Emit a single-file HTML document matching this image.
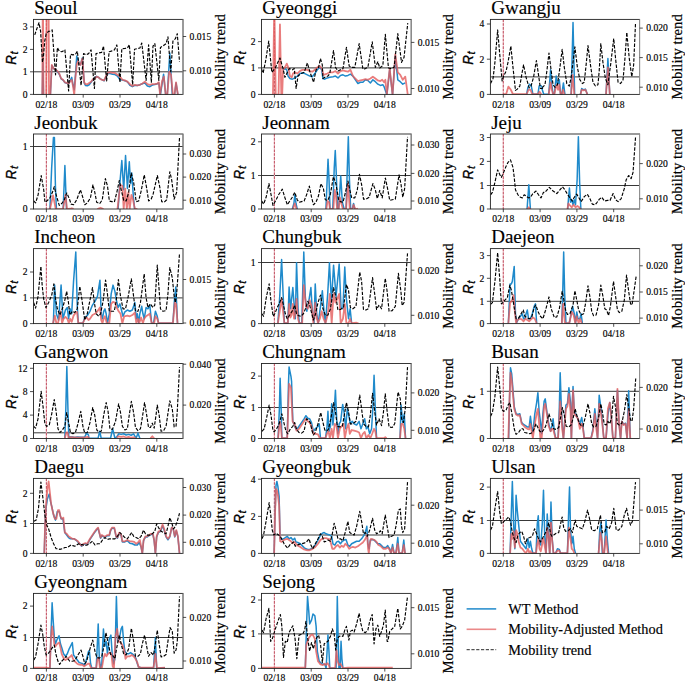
<!DOCTYPE html>
<html><head><meta charset="utf-8"><style>
html,body{margin:0;padding:0;background:#fff;}
svg{display:block;}
.t{font-family:"Liberation Serif", serif;font-size:9.6px;fill:#000;stroke:#000;stroke-width:0.15px;}
.rt{font-family:"Liberation Sans", sans-serif;font-style:italic;font-size:15.5px;fill:#000;stroke:#000;stroke-width:0.35px;}
.sub{font-size:11.5px;stroke-width:0.25px;}
.ml{font-family:"Liberation Serif", serif;font-size:14.7px;fill:#000;stroke:#000;stroke-width:0.2px;}
.ti{font-family:"Liberation Serif", serif;font-size:19px;fill:#000;stroke:#000;stroke-width:0.15px;}
.lg{font-family:"Liberation Serif", serif;font-size:14.3px;fill:#000;stroke:#000;stroke-width:0.15px;}
</style></head><body>
<svg width="685" height="682" viewBox="0 0 685 682">
<text x="34.3" y="14" class="ti">Seoul</text>
<clipPath id="c_Seoul"><rect x="33.5" y="19.4" width="149.5" height="75"/></clipPath>
<g clip-path="url(#c_Seoul)">
<line x1="33.5" y1="71.8" x2="183" y2="71.8" stroke="#383838" stroke-width="1.0"/>
<line x1="46.4" y1="19.4" x2="46.4" y2="94.4" stroke="#f3c9cf" stroke-width="1.1"/>
<line x1="46.4" y1="19.4" x2="46.4" y2="94.4" stroke="#c45a6a" stroke-width="1.1" stroke-dasharray="2.6,1.25"/>
<polyline points="42.3,96 42.9,62 43.5,96 50.3,96 51.81,65.47 53.68,68.58 55.55,69.83 57.41,71.7 59.28,74.19 61.15,78.8 63.02,80.05 64.89,82.54 66.76,83.29 68.63,83.79 70.5,79.8 71.74,77.31 72.99,84.78 74.24,89.77 75.48,74.81 76.73,56.12 77.98,59.86 79.22,63.6 80.47,64.84 82.34,57.99 84.21,82.91 85.45,85.4 87.32,85.78 89.19,84.78 91.06,82.29 92.93,79.55 94.8,77.93 96.67,76.31 98.54,77.31 100.4,78.8 102.27,79.8 104.14,80.79 106.01,76.68 107.88,73.57 109.98,73.57 112.48,74.19 114.97,74.56 117.46,76.06 119.95,79.8 122.45,80.05 124.94,80.67 127.43,81.92 129.92,85.4 132.41,86.65 134.91,85.4 137.4,85.53 139.89,84.78 142.38,83.79 144.88,82.91 147.37,86.03 149.86,86.65 152.35,85.03 154.84,84.53 157.34,83.79 158.83,82.91 160.45,94.75 163.57,74.19 165.69,94.75 167.31,94.75 169.8,53.01 172.29,94.75 174.53,94.75 176.03,82.91 177.9,94.75" fill="none" stroke="#1f8acb" stroke-width="1.5" stroke-linejoin="round"/>
<polyline points="42.3,96 42.9,-20 43.5,96 46.3,96 47.6,-250 49,96 50.3,96 51.81,64.84 53.68,68.58 55.55,69.83 57.41,71.07 59.28,73.57 61.15,78.55 63.02,79.8 64.89,82.29 66.76,82.91 68.63,83.54 70.5,81.04 71.74,79.8 72.99,86.03 74.24,94.75 75.48,77.31 76.73,64.84 77.98,61.11 79.22,64.22 80.47,64.84 82.34,58.61 84.21,82.29 85.45,84.16 87.32,84.16 89.19,82.91 91.06,81.67 92.93,79.17 94.8,78.55 96.67,76.68 98.54,77.31 100.4,79.17 102.27,79.8 104.14,80.42 106.01,76.06 107.88,72.94 109.98,72.32 112.48,72.94 114.97,72.94 117.46,74.81 119.95,76.68 122.45,79.8 124.94,80.42 127.43,81.67 129.92,84.16 132.41,86.03 134.91,84.78 137.4,85.4 139.89,84.78 142.38,83.54 144.88,81.67 147.37,84.16 149.86,84.78 152.35,84.16 154.84,84.16 157.34,83.54 158.83,82.29 160.08,94.75 162.07,81.04 163.82,76.68 165.69,94.75 167.31,94.75 169.17,71.7 171.04,74.81 172.91,94.75 174.53,94.75 176.03,82.29 177.9,94.75" fill="none" stroke="#e35c5c" stroke-opacity="0.8" stroke-width="1.8" stroke-linejoin="round"/>
<polyline points="34.74,34.94 36.85,28.71 38.97,22.73 40.59,31.2 42.46,62.35 43.46,56.12 44.7,41.17 46.2,33.69 48.69,31.2 50.56,31.2 52.18,29.95 55.55,74.81 57.41,47.65 59.28,51.14 61.78,51.76 64.89,49.89 68.63,91.01 70.5,54.25 72.99,54.88 75.48,54.25 77.35,51.14 81.09,85.4 83.58,53.63 86.07,54.88 88.57,53.63 91.06,49.89 94.42,88.52 96.04,53.63 98.54,53.01 101.65,52.38 103.52,46.15 106.64,81.04 109.11,51.76 111.23,51.14 114.35,49.89 116.84,44.91 119.95,82.29 121.82,48.64 124.94,48.4 127.43,48.02 129.3,44.66 132.66,84.78 134.53,49.27 137.4,48.64 139.89,48.02 141.76,43.04 146.12,80.42 148.61,44.91 151.36,82.29 152.98,46.15 154.84,43.66 158.83,80.42 160.45,47.4 163.57,45.53 166.06,43.66 167.93,36.81 170.79,71.7 172.91,41.17 175.4,38.68 177.27,33.69 179.52,61.73" fill="none" stroke="#000" stroke-width="1.15" stroke-dasharray="3.4,1.5" stroke-linejoin="round"/>
</g>
<rect x="33.5" y="19.4" width="149.5" height="75" fill="none" stroke="#222" stroke-width="0.9"/>
<line x1="183" y1="19.4" x2="183" y2="94.4" stroke="#999" stroke-width="1"/>
<line x1="46.4" y1="94.4" x2="46.4" y2="97.6" stroke="#222" stroke-width="0.8"/>
<text x="46.4" y="107.7" text-anchor="middle" class="t">02/18</text>
<line x1="83.2" y1="94.4" x2="83.2" y2="97.6" stroke="#222" stroke-width="0.8"/>
<text x="83.2" y="107.7" text-anchor="middle" class="t">03/09</text>
<line x1="120" y1="94.4" x2="120" y2="97.6" stroke="#222" stroke-width="0.8"/>
<text x="120" y="107.7" text-anchor="middle" class="t">03/29</text>
<line x1="156.8" y1="94.4" x2="156.8" y2="97.6" stroke="#222" stroke-width="0.8"/>
<text x="156.8" y="107.7" text-anchor="middle" class="t">04/18</text>
<line x1="30" y1="94.4" x2="33.5" y2="94.4" stroke="#222" stroke-width="0.8"/>
<text x="27.5" y="97.7" text-anchor="end" class="t">0</text>
<line x1="30" y1="71.8" x2="33.5" y2="71.8" stroke="#222" stroke-width="0.8"/>
<text x="27.5" y="75.1" text-anchor="end" class="t">1</text>
<line x1="30" y1="49.4" x2="33.5" y2="49.4" stroke="#222" stroke-width="0.8"/>
<text x="27.5" y="52.7" text-anchor="end" class="t">2</text>
<line x1="30" y1="26.9" x2="33.5" y2="26.9" stroke="#222" stroke-width="0.8"/>
<text x="27.5" y="30.2" text-anchor="end" class="t">3</text>
<line x1="183" y1="70.8" x2="186.2" y2="70.8" stroke="#222" stroke-width="0.8"/>
<text x="189.6" y="74.1" class="t">0.010</text>
<line x1="183" y1="36.5" x2="186.2" y2="36.5" stroke="#222" stroke-width="0.8"/>
<text x="189.6" y="39.8" class="t">0.015</text>
<g transform="translate(15.9,58.2) rotate(-90)"><text class="rt" transform="translate(-6.6,0) scale(0.86,1)">R</text><text class="rt sub" x="3.7" y="2.4">t</text></g>
<text transform="translate(225,56.9) rotate(-90)" text-anchor="middle" class="ml">Mobility trend</text>
<text x="262.3" y="14" class="ti">Gyeonggi</text>
<clipPath id="c_Gyeonggi"><rect x="261.5" y="19.4" width="149.7" height="75"/></clipPath>
<g clip-path="url(#c_Gyeonggi)">
<line x1="261.5" y1="67.9" x2="411.2" y2="67.9" stroke="#383838" stroke-width="1.0"/>
<line x1="274.4" y1="19.4" x2="274.4" y2="94.4" stroke="#f3c9cf" stroke-width="1.1"/>
<line x1="274.4" y1="19.4" x2="274.4" y2="94.4" stroke="#c45a6a" stroke-width="1.1" stroke-dasharray="2.6,1.25"/>
<polyline points="283.05,69.83 284.92,68.58 286.79,69.83 288.04,76.06 289.91,78.55 292.4,79.17 294.89,77.93 297.38,76.06 299.88,73.57 302.37,72.94 304.86,73.57 307.35,74.81 309.84,76.06 312.34,76.68 314.83,73.57 317.32,69.83 319.81,67.34 321.68,69.83 322.93,78.55 324.8,79.17 327.29,77.93 329.78,77.31 333.02,76.68 335.49,76.06 337.98,77.93 340.48,75.44 342.97,74.81 345.46,76.06 347.95,75.44 350.45,74.19 352.94,76.06 355.43,79.8 357.92,83.54 360.41,82.29 362.91,82.29 365.4,79.8 367.89,80.42 370.38,82.91 372.88,79.8 375.37,81.67 377.86,84.16 380.35,85.4 382.84,84.78 384.09,86.65 386.83,94.75 389.7,69.83 392.56,94.75 395.31,56.12 397.8,79.8 400.29,81.67 402.78,84.16 405.27,82.91" fill="none" stroke="#1f8acb" stroke-width="1.5" stroke-linejoin="round"/>
<polyline points="272.96,94.75 274.33,2.54 275.7,94.75 278.57,94.75 279.94,24.35 281.31,94.75 282.18,94.75 283.05,69.83 284.92,67.34 286.79,63.6 288.66,68.58 289.91,76.06 291.78,77.31 293.02,73.57 294.89,72.32 297.38,73.57 299.88,71.07 302.37,69.83 304.86,69.83 307.35,69.83 309.84,71.07 312.34,71.7 314.83,69.83 317.32,67.34 319.81,66.09 321.68,68.58 323.55,74.81 327.29,73.57 329.78,72.32 333.02,72.32 335.49,71.07 337.98,73.57 340.48,71.07 342.97,70.45 345.46,71.07 347.95,71.7 350.45,69.83 352.94,76.06 355.43,78.55 357.92,81.04 360.41,80.42 362.91,79.8 365.4,79.17 367.89,79.8 370.38,78.55 372.88,76.68 375.37,78.55 377.86,80.42 380.35,81.04 382.22,79.8 384.09,82.29 385.34,79.8 386.83,94.75 389.7,68.58 392.56,94.75 395.31,54.25 397.8,72.32 400.29,74.81 402.78,79.8 405.27,76.68 407.77,94.75" fill="none" stroke="#e35c5c" stroke-opacity="0.8" stroke-width="1.8" stroke-linejoin="round"/>
<polyline points="261.25,68.58 263.12,72.94 265.61,61.11 268.72,41.17 271.84,72.32 274.95,68.58 279.94,57.99 283.05,68.58 284.92,77.31 286.79,73.57 289.28,68.58 292.4,69.83 294.27,68.58 296.14,88.52 298.01,76.06 301.12,73.57 304.24,72.32 307.35,62.98 309.84,71.7 313.58,82.29 316.07,69.83 318.57,67.34 320.44,58.61 322.31,64.84 322.93,78.55 324.8,77.31 327.91,76.06 329.78,73.57 333.52,50.51 335.49,67.34 337.98,71.07 340.48,69.83 342.97,68.58 346.46,47.4 349.2,66.09 351.69,67.34 354.81,67.34 359.17,43.66 362.91,69.21 365.4,68.58 367.89,67.34 372.25,41.79 375.37,67.34 377.86,61.73 379.73,67.96 382.84,65.47 385.34,34.31 388.45,67.96 390.94,68.58 394.06,67.34 397.8,33.69 401.54,62.35 404.03,57.37 407.77,23.1" fill="none" stroke="#000" stroke-width="1.15" stroke-dasharray="3.4,1.5" stroke-linejoin="round"/>
</g>
<rect x="261.5" y="19.4" width="149.7" height="75" fill="none" stroke="#222" stroke-width="0.9"/>
<line x1="411.2" y1="19.4" x2="411.2" y2="94.4" stroke="#999" stroke-width="1"/>
<line x1="274.4" y1="94.4" x2="274.4" y2="97.6" stroke="#222" stroke-width="0.8"/>
<text x="274.4" y="107.7" text-anchor="middle" class="t">02/18</text>
<line x1="311.2" y1="94.4" x2="311.2" y2="97.6" stroke="#222" stroke-width="0.8"/>
<text x="311.2" y="107.7" text-anchor="middle" class="t">03/09</text>
<line x1="348" y1="94.4" x2="348" y2="97.6" stroke="#222" stroke-width="0.8"/>
<text x="348" y="107.7" text-anchor="middle" class="t">03/29</text>
<line x1="384.8" y1="94.4" x2="384.8" y2="97.6" stroke="#222" stroke-width="0.8"/>
<text x="384.8" y="107.7" text-anchor="middle" class="t">04/18</text>
<line x1="258" y1="94.4" x2="261.5" y2="94.4" stroke="#222" stroke-width="0.8"/>
<text x="255.5" y="97.7" text-anchor="end" class="t">0</text>
<line x1="258" y1="67.9" x2="261.5" y2="67.9" stroke="#222" stroke-width="0.8"/>
<text x="255.5" y="71.2" text-anchor="end" class="t">1</text>
<line x1="258" y1="41.6" x2="261.5" y2="41.6" stroke="#222" stroke-width="0.8"/>
<text x="255.5" y="44.9" text-anchor="end" class="t">2</text>
<line x1="411.2" y1="88.5" x2="414.4" y2="88.5" stroke="#222" stroke-width="0.8"/>
<text x="417.8" y="91.8" class="t">0.010</text>
<line x1="411.2" y1="42.4" x2="414.4" y2="42.4" stroke="#222" stroke-width="0.8"/>
<text x="417.8" y="45.7" class="t">0.015</text>
<g transform="translate(243.9,58.2) rotate(-90)"><text class="rt" transform="translate(-6.6,0) scale(0.86,1)">R</text><text class="rt sub" x="3.7" y="2.4">t</text></g>
<text transform="translate(453.2,56.9) rotate(-90)" text-anchor="middle" class="ml">Mobility trend</text>
<text x="491.2" y="14" class="ti">Gwangju</text>
<clipPath id="c_Gwangju"><rect x="490.4" y="19.4" width="149.2" height="75"/></clipPath>
<g clip-path="url(#c_Gwangju)">
<line x1="490.4" y1="76.9" x2="639.6" y2="76.9" stroke="#383838" stroke-width="1.0"/>
<line x1="503.3" y1="19.4" x2="503.3" y2="94.4" stroke="#f3c9cf" stroke-width="1.1"/>
<line x1="503.3" y1="19.4" x2="503.3" y2="94.4" stroke="#c45a6a" stroke-width="1.1" stroke-dasharray="2.6,1.25"/>
<polyline points="526.68,94.25 527.93,87.27 529.55,84.16 531.29,86.03 532.91,94.25 537.9,94.25 539.14,86.03 540.76,85.4 542.88,88.52" fill="none" stroke="#1f8acb" stroke-width="1.5" stroke-linejoin="round"/>
<polyline points="541.87,88.52 543.74,94.25 548.72,94.25 550.59,69.83 551.84,84.78 553.08,94.25 554.33,94.25 556.2,76.06 557.45,84.78 559.31,79.8 560.56,94.25 561.81,94.25 563.43,82.91 564.92,94.25" fill="none" stroke="#1f8acb" stroke-width="1.5" stroke-linejoin="round"/>
<polyline points="571.15,94.25 573.02,22.48 574.64,94.25" fill="none" stroke="#1f8acb" stroke-width="1.5" stroke-linejoin="round"/>
<polyline points="580.5,94.25 581.74,88.52 583.61,89.77 585.48,89.14 587.35,94.25" fill="none" stroke="#1f8acb" stroke-width="1.5" stroke-linejoin="round"/>
<polyline points="606.04,94.25 607.91,58.61 609.78,94.25" fill="none" stroke="#1f8acb" stroke-width="1.5" stroke-linejoin="round"/>
<polyline points="503.63,94.25 506.12,94.25 508.36,86.65 510.86,89.77 512.98,94.25 526.68,94.25 528.55,89.77 530.42,89.77 532.29,94.25 537.9,94.25 539.52,91.64 541.26,94.25" fill="none" stroke="#e35c5c" stroke-opacity="0.8" stroke-width="1.8" stroke-linejoin="round"/>
<polyline points="548.72,94.25 550.59,82.29 551.84,89.77 553.08,94.25 554.33,94.25 555.58,88.52 556.82,84.78 558.07,89.77 559.31,84.78 560.56,94.25 561.81,94.25 563.05,89.77 564.3,94.25" fill="none" stroke="#e35c5c" stroke-opacity="0.8" stroke-width="1.8" stroke-linejoin="round"/>
<polyline points="571.15,94.25 572.65,74.81 574.27,94.25" fill="none" stroke="#e35c5c" stroke-opacity="0.8" stroke-width="1.8" stroke-linejoin="round"/>
<polyline points="580.5,94.25 581.74,89.77 583.61,90.39 585.48,89.77 587.35,94.25" fill="none" stroke="#e35c5c" stroke-opacity="0.8" stroke-width="1.8" stroke-linejoin="round"/>
<polyline points="606.04,94.25 607.91,67.34 609.78,94.25" fill="none" stroke="#e35c5c" stroke-opacity="0.8" stroke-width="1.8" stroke-linejoin="round"/>
<polyline points="490.55,83.54 493.04,78.55 494.91,62.35 497.65,29.95 499.89,56.12 502.13,81.04 503.63,76.06 506.12,71.07 507.99,62.35 510.86,46.15 512.98,67.34 515.47,90.39 517.34,89.14 519.83,86.03 521.7,74.81 523.57,64.84 526.06,77.31 529.17,87.9 531.04,86.03 533.54,77.31 536.4,60.48 538.52,74.81 540.39,88.52 542.88,88.52 541.87,87.9 544.98,84.78 546.85,71.07 548.97,53.01 551.21,71.07 553.08,84.78 554.95,87.27 557.45,84.78 559.94,67.34 562.18,49.27 564.3,67.34 566.79,83.54 569.28,86.03 571.15,77.31 574.89,46.78 577.38,67.34 579.88,79.8 582.37,83.54 584.24,82.29 586.11,64.84 587.98,45.53 590.47,64.84 592.96,82.29 595.45,86.03 597.94,84.78 599.19,71.07 600.81,43.66 602.93,62.35 605.42,78.55 607.91,84.78 610.6,64.84 613.71,38.68 615.58,58.61 618.07,82.29 620.57,83.54 623.06,79.8 624.93,58.61 626.8,32.45 629.29,58.61 631.78,76.68 633.65,64.84 635.52,23.1" fill="none" stroke="#000" stroke-width="1.15" stroke-dasharray="3.4,1.5" stroke-linejoin="round"/>
</g>
<rect x="490.4" y="19.4" width="149.2" height="75" fill="none" stroke="#222" stroke-width="0.9"/>
<line x1="639.6" y1="19.4" x2="639.6" y2="94.4" stroke="#999" stroke-width="1"/>
<line x1="503.3" y1="94.4" x2="503.3" y2="97.6" stroke="#222" stroke-width="0.8"/>
<text x="503.3" y="107.7" text-anchor="middle" class="t">02/18</text>
<line x1="540.1" y1="94.4" x2="540.1" y2="97.6" stroke="#222" stroke-width="0.8"/>
<text x="540.1" y="107.7" text-anchor="middle" class="t">03/09</text>
<line x1="576.9" y1="94.4" x2="576.9" y2="97.6" stroke="#222" stroke-width="0.8"/>
<text x="576.9" y="107.7" text-anchor="middle" class="t">03/29</text>
<line x1="613.7" y1="94.4" x2="613.7" y2="97.6" stroke="#222" stroke-width="0.8"/>
<text x="613.7" y="107.7" text-anchor="middle" class="t">04/18</text>
<line x1="486.9" y1="94.4" x2="490.4" y2="94.4" stroke="#222" stroke-width="0.8"/>
<text x="484.4" y="97.7" text-anchor="end" class="t">0</text>
<line x1="486.9" y1="59.2" x2="490.4" y2="59.2" stroke="#222" stroke-width="0.8"/>
<text x="484.4" y="62.5" text-anchor="end" class="t">2</text>
<line x1="486.9" y1="24" x2="490.4" y2="24" stroke="#222" stroke-width="0.8"/>
<text x="484.4" y="27.3" text-anchor="end" class="t">4</text>
<line x1="639.6" y1="87.2" x2="642.8" y2="87.2" stroke="#222" stroke-width="0.8"/>
<text x="646.2" y="90.5" class="t">0.010</text>
<line x1="639.6" y1="57.6" x2="642.8" y2="57.6" stroke="#222" stroke-width="0.8"/>
<text x="646.2" y="60.9" class="t">0.015</text>
<line x1="639.6" y1="28.1" x2="642.8" y2="28.1" stroke="#222" stroke-width="0.8"/>
<text x="646.2" y="31.4" class="t">0.020</text>
<g transform="translate(472.8,58.2) rotate(-90)"><text class="rt" transform="translate(-6.6,0) scale(0.86,1)">R</text><text class="rt sub" x="3.7" y="2.4">t</text></g>
<text transform="translate(681.6,56.9) rotate(-90)" text-anchor="middle" class="ml">Mobility trend</text>
<text x="34.3" y="128.6" class="ti">Jeonbuk</text>
<clipPath id="c_Jeonbuk"><rect x="33.5" y="134" width="149.5" height="75"/></clipPath>
<g clip-path="url(#c_Jeonbuk)">
<line x1="33.5" y1="146.5" x2="183" y2="146.5" stroke="#383838" stroke-width="1.0"/>
<line x1="46.4" y1="134" x2="46.4" y2="209" stroke="#f3c9cf" stroke-width="1.1"/>
<line x1="46.4" y1="134" x2="46.4" y2="209" stroke="#c45a6a" stroke-width="1.1" stroke-dasharray="2.6,1.25"/>
<polyline points="49.94,209.25 51.68,167.38 53.43,137.48 54.42,137.48 55.42,186.07 56.42,209.25" fill="none" stroke="#1f8acb" stroke-width="1.5" stroke-linejoin="round"/>
<polyline points="63.15,209.25 64.89,165.51 66.51,209.25" fill="none" stroke="#1f8acb" stroke-width="1.5" stroke-linejoin="round"/>
<polyline points="118.08,209.25 119.95,182.34 121.82,160.53 123.69,189.81 125.56,155.55 127.43,188.57 129.3,161.78 130.55,183.58 131.79,172.99 133.41,197.29 134.66,209.25" fill="none" stroke="#1f8acb" stroke-width="1.5" stroke-linejoin="round"/>
<polyline points="48.69,209.25 49.94,209.25 53.05,195.42 55.79,209.25 63.02,209.25 65.51,194.8 67.01,209.25 69.88,208.75 71.74,208.26 73.61,208.88" fill="none" stroke="#e35c5c" stroke-opacity="0.8" stroke-width="1.8" stroke-linejoin="round"/>
<polyline points="97.29,209 100.4,207.76 103.52,209" fill="none" stroke="#e35c5c" stroke-opacity="0.8" stroke-width="1.8" stroke-linejoin="round"/>
<polyline points="117.46,209.25 120.2,184.83 122.45,186.07 123.69,209.25 125.19,188.57 126.81,209.25 128.43,192.31 129.67,209.25 131.42,194.8 133.04,199.78 134.91,209.25 137.4,209" fill="none" stroke="#e35c5c" stroke-opacity="0.8" stroke-width="1.8" stroke-linejoin="round"/>
<polyline points="33.74,201.03 35.61,202.9 38.1,194.8 41.21,175.48 43.71,189.81 44.95,202.27 46.82,201.03 49.94,197.91 52.43,192.31 54.3,186.7 56.17,194.8 59.28,205.39 61.78,203.52 64.27,199.78 66.76,192.93 69.25,198.54 71.12,204.14 73.61,204.77 76.73,199.78 80.47,189.81 82.96,197.91 84.83,204.77 87.32,202.9 90.44,197.91 92.93,184.83 94.8,192.31 96.67,202.27 99.78,203.52 102.27,199.78 105.39,178.6 107.49,186.07 109.36,201.03 111.85,201.65 114.35,202.02 116.84,192.31 119.33,180.47 121.2,189.81 123.69,200.4 126.18,201.03 128.68,192.31 131.17,172.99 133.66,182.34 136.15,201.65 138.64,201.03 141.14,191.06 144.25,174.86 146.74,188.57 148.61,201.03 151.11,199.16 152.98,194.8 157.34,175.48 159.83,187.32 161.7,201.65 164.19,202.27 166.68,199.78 169.8,171.74 171.67,179.84 174.16,199.16 176.65,192.31 179.52,137.48" fill="none" stroke="#000" stroke-width="1.15" stroke-dasharray="3.4,1.5" stroke-linejoin="round"/>
</g>
<rect x="33.5" y="134" width="149.5" height="75" fill="none" stroke="#222" stroke-width="0.9"/>
<line x1="183" y1="134" x2="183" y2="209" stroke="#999" stroke-width="1"/>
<line x1="46.4" y1="209" x2="46.4" y2="212.2" stroke="#222" stroke-width="0.8"/>
<text x="46.4" y="222.3" text-anchor="middle" class="t">02/18</text>
<line x1="83.2" y1="209" x2="83.2" y2="212.2" stroke="#222" stroke-width="0.8"/>
<text x="83.2" y="222.3" text-anchor="middle" class="t">03/09</text>
<line x1="120" y1="209" x2="120" y2="212.2" stroke="#222" stroke-width="0.8"/>
<text x="120" y="222.3" text-anchor="middle" class="t">03/29</text>
<line x1="156.8" y1="209" x2="156.8" y2="212.2" stroke="#222" stroke-width="0.8"/>
<text x="156.8" y="222.3" text-anchor="middle" class="t">04/18</text>
<line x1="30" y1="209" x2="33.5" y2="209" stroke="#222" stroke-width="0.8"/>
<text x="27.5" y="212.3" text-anchor="end" class="t">0</text>
<line x1="30" y1="146.5" x2="33.5" y2="146.5" stroke="#222" stroke-width="0.8"/>
<text x="27.5" y="149.8" text-anchor="end" class="t">1</text>
<line x1="183" y1="200.2" x2="186.2" y2="200.2" stroke="#222" stroke-width="0.8"/>
<text x="189.6" y="203.5" class="t">0.010</text>
<line x1="183" y1="177.1" x2="186.2" y2="177.1" stroke="#222" stroke-width="0.8"/>
<text x="189.6" y="180.4" class="t">0.020</text>
<line x1="183" y1="154" x2="186.2" y2="154" stroke="#222" stroke-width="0.8"/>
<text x="189.6" y="157.3" class="t">0.030</text>
<g transform="translate(15.9,172.8) rotate(-90)"><text class="rt" transform="translate(-6.6,0) scale(0.86,1)">R</text><text class="rt sub" x="3.7" y="2.4">t</text></g>
<text transform="translate(225,171.5) rotate(-90)" text-anchor="middle" class="ml">Mobility trend</text>
<text x="262.3" y="128.6" class="ti">Jeonnam</text>
<clipPath id="c_Jeonnam"><rect x="261.5" y="134" width="149.7" height="75"/></clipPath>
<g clip-path="url(#c_Jeonnam)">
<line x1="261.5" y1="175.5" x2="411.2" y2="175.5" stroke="#383838" stroke-width="1.0"/>
<line x1="274.4" y1="134" x2="274.4" y2="209" stroke="#f3c9cf" stroke-width="1.1"/>
<line x1="274.4" y1="134" x2="274.4" y2="209" stroke="#c45a6a" stroke-width="1.1" stroke-dasharray="2.6,1.25"/>
<polyline points="292.27,209.25 293.89,203.52 294.88,194.8 296.01,203.52 297.25,209.25" fill="none" stroke="#1f8acb" stroke-width="1.5" stroke-linejoin="round"/>
<polyline points="325.91,209.25 327.16,179.84 328.03,159.28 329.03,179.84 330.02,209.25 332.77,209.25 334.26,167.38 335.26,150.56 336.26,173.61 337.5,209.25" fill="none" stroke="#1f8acb" stroke-width="1.5" stroke-linejoin="round"/>
<polyline points="338.61,209.25 340.73,176.11 342.35,202.27 344.21,209.25 346.08,209.25 347.33,167.38 348.33,136.85 349.45,179.84 350.69,209.25 352.31,209.25 353.56,203.52 354.81,209.25" fill="none" stroke="#1f8acb" stroke-width="1.5" stroke-linejoin="round"/>
<polyline points="292.89,209.25 294.76,203.52 296.63,209.25" fill="none" stroke="#e35c5c" stroke-opacity="0.8" stroke-width="1.8" stroke-linejoin="round"/>
<polyline points="326.29,209.25 327.53,201.03 329.03,202.27 330.02,209.25 333.39,209.25 334.64,189.81 335.88,194.8 337.13,209.25" fill="none" stroke="#e35c5c" stroke-opacity="0.8" stroke-width="1.8" stroke-linejoin="round"/>
<polyline points="338.61,209.25 339.85,197.29 341.72,204.77 342.97,209.25 346.08,209.25 347.95,183.58 349.82,209.25 352.31,209.25 353.56,204.77 355.43,209.25 357.92,208.5" fill="none" stroke="#e35c5c" stroke-opacity="0.8" stroke-width="1.8" stroke-linejoin="round"/>
<polyline points="261.74,201.03 263.61,204.14 266.1,197.29 268.97,183.58 271.08,194.8 272.95,205.39 275.45,201.03 278.56,194.8 282.3,189.19 284.79,197.29 287.28,204.77 289.78,201.03 292.27,197.29 294.76,192.31 297.25,199.78 299.12,202.27 301.61,201.65 304.11,201.03 306.6,194.8 309.34,186.07 311.58,197.29 313.45,204.77 315.94,202.27 318.44,196.04 320.93,183.58 323.42,188.57 325.29,199.78 327.78,200.4 330.27,194.8 333.39,176.73 335.88,183.58 336.74,188.57 338.61,199.78 340.48,201.65 342.97,202.27 345.46,192.31 347.95,181.09 349.82,189.81 351.69,197.91 354.81,197.91 357.3,189.81 359.42,174.24 361.66,184.83 363.53,199.16 366.02,199.16 369.14,197.29 372.88,183.58 375.37,189.81 377.24,198.54 379.73,190.44 382.22,197.91 385.34,177.98 387.83,189.81 389.7,200.4 392.19,199.78 395.31,199.16 399.04,174.86 400.91,183.58 402.78,197.29 404.65,188.57 407.52,136.85" fill="none" stroke="#000" stroke-width="1.15" stroke-dasharray="3.4,1.5" stroke-linejoin="round"/>
</g>
<rect x="261.5" y="134" width="149.7" height="75" fill="none" stroke="#222" stroke-width="0.9"/>
<line x1="411.2" y1="134" x2="411.2" y2="209" stroke="#999" stroke-width="1"/>
<line x1="274.4" y1="209" x2="274.4" y2="212.2" stroke="#222" stroke-width="0.8"/>
<text x="274.4" y="222.3" text-anchor="middle" class="t">02/18</text>
<line x1="311.2" y1="209" x2="311.2" y2="212.2" stroke="#222" stroke-width="0.8"/>
<text x="311.2" y="222.3" text-anchor="middle" class="t">03/09</text>
<line x1="348" y1="209" x2="348" y2="212.2" stroke="#222" stroke-width="0.8"/>
<text x="348" y="222.3" text-anchor="middle" class="t">03/29</text>
<line x1="384.8" y1="209" x2="384.8" y2="212.2" stroke="#222" stroke-width="0.8"/>
<text x="384.8" y="222.3" text-anchor="middle" class="t">04/18</text>
<line x1="258" y1="209" x2="261.5" y2="209" stroke="#222" stroke-width="0.8"/>
<text x="255.5" y="212.3" text-anchor="end" class="t">0</text>
<line x1="258" y1="175.5" x2="261.5" y2="175.5" stroke="#222" stroke-width="0.8"/>
<text x="255.5" y="178.8" text-anchor="end" class="t">1</text>
<line x1="258" y1="141.8" x2="261.5" y2="141.8" stroke="#222" stroke-width="0.8"/>
<text x="255.5" y="145.1" text-anchor="end" class="t">2</text>
<line x1="411.2" y1="201" x2="414.4" y2="201" stroke="#222" stroke-width="0.8"/>
<text x="417.8" y="204.3" class="t">0.010</text>
<line x1="411.2" y1="173.4" x2="414.4" y2="173.4" stroke="#222" stroke-width="0.8"/>
<text x="417.8" y="176.7" class="t">0.020</text>
<line x1="411.2" y1="145" x2="414.4" y2="145" stroke="#222" stroke-width="0.8"/>
<text x="417.8" y="148.3" class="t">0.030</text>
<g transform="translate(243.9,172.8) rotate(-90)"><text class="rt" transform="translate(-6.6,0) scale(0.86,1)">R</text><text class="rt sub" x="3.7" y="2.4">t</text></g>
<text transform="translate(453.2,171.5) rotate(-90)" text-anchor="middle" class="ml">Mobility trend</text>
<text x="491.2" y="128.6" class="ti">Jeju</text>
<clipPath id="c_Jeju"><rect x="490.4" y="134" width="149.2" height="75"/></clipPath>
<g clip-path="url(#c_Jeju)">
<line x1="490.4" y1="185.5" x2="639.6" y2="185.5" stroke="#383838" stroke-width="1.0"/>
<line x1="503.3" y1="134" x2="503.3" y2="209" stroke="#f3c9cf" stroke-width="1.1"/>
<line x1="503.3" y1="134" x2="503.3" y2="209" stroke="#c45a6a" stroke-width="1.1" stroke-dasharray="2.6,1.25"/>
<polyline points="527.06,209.25 528.8,184.83 530.42,209.25" fill="none" stroke="#1f8acb" stroke-width="1.5" stroke-linejoin="round"/>
<polyline points="567.66,209.25 568.41,199.78 569.41,187.94 570.53,202.27 571.78,199.78 573.02,204.77 574.27,199.78 575.51,204.77 577.13,179.84 578.38,136.85 579.63,182.34 580.87,209.25" fill="none" stroke="#1f8acb" stroke-width="1.5" stroke-linejoin="round"/>
<polyline points="527.31,209.25 528.8,207.26 530.42,209.25" fill="none" stroke="#e35c5c" stroke-opacity="0.8" stroke-width="1.8" stroke-linejoin="round"/>
<polyline points="567.41,209.25 568.41,203.52 569.91,205.39 571.78,207.26 573.64,204.77 575.51,207.26 577.38,206.01 579.25,207.26 580.5,209.25" fill="none" stroke="#e35c5c" stroke-opacity="0.8" stroke-width="1.8" stroke-linejoin="round"/>
<polyline points="490.55,194.8 492.41,192.31 494.91,182.34 497.65,169.88 499.89,174.86 501.39,177.35 503.63,172.37 506.12,166.14 507.99,162.4 510.48,159.91 512.98,167.38 514.22,177.35 515.47,189.81 517.96,194.8 520.45,197.29 522.32,197.91 524.19,194.8 526.06,196.04 528.55,197.91 530.42,197.29 532.91,193.55 536.03,191.06 538.52,194.8 541.01,197.91 543.5,192.31 544.98,192.31 549.35,187.32 553.08,191.06 556.82,193.55 559.94,189.81 562.43,186.7 564.92,189.81 567.41,194.17 569.91,197.91 572.4,201.03 574.27,197.29 576.76,194.17 578.63,197.29 581.12,201.65 584.24,196.67 587.35,194.17 589.84,198.54 592.34,204.14 595.02,204.77 596.27,203.52 599.38,199.16 601.88,197.29 604.37,201.03 607.48,200.4 609.98,200.4 613.09,193.55 615.58,199.78 618.07,201.65 621.19,198.54 624.31,188.57 626.17,179.84 628.67,175.48 631.16,178.6 633.03,172.37 635.52,137.48" fill="none" stroke="#000" stroke-width="1.15" stroke-dasharray="3.4,1.5" stroke-linejoin="round"/>
</g>
<rect x="490.4" y="134" width="149.2" height="75" fill="none" stroke="#222" stroke-width="0.9"/>
<line x1="639.6" y1="134" x2="639.6" y2="209" stroke="#999" stroke-width="1"/>
<line x1="503.3" y1="209" x2="503.3" y2="212.2" stroke="#222" stroke-width="0.8"/>
<text x="503.3" y="222.3" text-anchor="middle" class="t">02/18</text>
<line x1="540.1" y1="209" x2="540.1" y2="212.2" stroke="#222" stroke-width="0.8"/>
<text x="540.1" y="222.3" text-anchor="middle" class="t">03/09</text>
<line x1="576.9" y1="209" x2="576.9" y2="212.2" stroke="#222" stroke-width="0.8"/>
<text x="576.9" y="222.3" text-anchor="middle" class="t">03/29</text>
<line x1="613.7" y1="209" x2="613.7" y2="212.2" stroke="#222" stroke-width="0.8"/>
<text x="613.7" y="222.3" text-anchor="middle" class="t">04/18</text>
<line x1="486.9" y1="209" x2="490.4" y2="209" stroke="#222" stroke-width="0.8"/>
<text x="484.4" y="212.3" text-anchor="end" class="t">0</text>
<line x1="486.9" y1="185.5" x2="490.4" y2="185.5" stroke="#222" stroke-width="0.8"/>
<text x="484.4" y="188.8" text-anchor="end" class="t">1</text>
<line x1="486.9" y1="161.4" x2="490.4" y2="161.4" stroke="#222" stroke-width="0.8"/>
<text x="484.4" y="164.7" text-anchor="end" class="t">2</text>
<line x1="486.9" y1="137.5" x2="490.4" y2="137.5" stroke="#222" stroke-width="0.8"/>
<text x="484.4" y="140.8" text-anchor="end" class="t">3</text>
<line x1="639.6" y1="198.8" x2="642.8" y2="198.8" stroke="#222" stroke-width="0.8"/>
<text x="646.2" y="202.1" class="t">0.010</text>
<line x1="639.6" y1="163.6" x2="642.8" y2="163.6" stroke="#222" stroke-width="0.8"/>
<text x="646.2" y="166.9" class="t">0.020</text>
<g transform="translate(472.8,172.8) rotate(-90)"><text class="rt" transform="translate(-6.6,0) scale(0.86,1)">R</text><text class="rt sub" x="3.7" y="2.4">t</text></g>
<text transform="translate(681.6,171.5) rotate(-90)" text-anchor="middle" class="ml">Mobility trend</text>
<text x="34.3" y="243.2" class="ti">Incheon</text>
<clipPath id="c_Incheon"><rect x="33.5" y="248.6" width="149.5" height="75"/></clipPath>
<g clip-path="url(#c_Incheon)">
<line x1="33.5" y1="297.9" x2="183" y2="297.9" stroke="#383838" stroke-width="1.0"/>
<line x1="46.4" y1="248.6" x2="46.4" y2="323.6" stroke="#f3c9cf" stroke-width="1.1"/>
<line x1="46.4" y1="248.6" x2="46.4" y2="323.6" stroke="#c45a6a" stroke-width="1.1" stroke-dasharray="2.6,1.25"/>
<polyline points="53.36,323.25 54.61,285.12 56.36,313.78 58.6,320.01 61.09,285.12 62.96,318.77 65.45,310.04 67.32,307.55 68.57,318.77 70.06,308.8 71.68,313.78 73.55,281.38 75.79,252.1 77.29,306.31 78.29,323.25 82.9,323.25 84.77,317.52 87.26,315.65 89.98,311.29 92.48,305.06 94.97,301.32 97.46,296.34 99.95,280.14 101.2,313.78 102.45,318.77 103.69,311.29 104.94,308.8 106.18,313.78 107.43,323.25 109.3,313.78 111.17,293.84 113.04,285.12 114.91,291.35 116.15,298.83 118.02,307.55 119.89,303.81 121.14,308.8 123.01,316.27 124.88,311.91 127.37,310.04 129.86,311.29 132.35,310.04 134.84,302.57 136.34,318.77 137.34,313.78 138.58,322.5 139.83,313.78 141.7,306.31 142.94,313.78 144.19,318.77 146.06,307.55 147.93,308.8 149.8,305.06 151.67,323.25 153.54,323.25 155.4,311.29 157.27,316.27 158.52,323.25 172.91,323.25 174.53,298.83 175.78,286.99 176.65,303.81 177.52,323.25" fill="none" stroke="#1f8acb" stroke-width="1.5" stroke-linejoin="round"/>
<polyline points="52.99,323.25 54.86,315.65 56.36,323.25 57.98,323.25 60.47,311.29 62.09,323.25 63.58,318.77 65.45,316.9 67.32,318.77 68.82,323.25 70.19,318.77 71.68,321.88 73.55,315.65 75.42,313.16 77.04,311.91 78.29,323.25 82.9,323.25 84.77,318.77 86.64,317.52 88.5,320.01 89.98,318.77 92.48,315.03 94.97,313.78 97.46,311.29 99.95,307.55 101.2,320.01 102.45,323.25 103.69,318.77 104.94,316.27 106.81,323.25 109.3,323.25 111.17,303.81 113.04,301.94 114.91,302.57 116.78,307.55 118.64,311.29 120.51,313.78 122.38,323.25 124.25,316.27 127.37,315.65 129.86,316.27 132.35,315.03 134.84,312.54 136.34,323.25 137.96,318.77 139.21,323.25 141.07,317.52 142.94,323.25 144.19,318.77 146.06,316.27 147.93,315.03 149.8,313.78 151.67,323.25 154.16,323.25 155.4,316.27 157.27,318.77 158.52,323.25 172.91,323.25 174.78,302.57 176.03,303.81 177.52,323.25" fill="none" stroke="#e35c5c" stroke-opacity="0.8" stroke-width="1.8" stroke-linejoin="round"/>
<polyline points="33.68,302.57 35.55,308.17 38.04,296.34 40.9,266.43 42.15,285.12 43.64,298.83 45.89,307.55 48.63,302.57 51.74,295.09 53.86,283.88 55.48,298.83 57.35,308.8 59.84,315.03 62.34,308.8 64.83,300.07 66.7,291.35 68.32,301.32 69.81,315.03 72.31,311.29 74.8,312.54 77.29,308.8 79.78,286.37 81.65,297.58 83.52,311.29 84.77,320.01 87.26,313.78 89.98,300.07 92.48,287.61 94.35,302.57 96.21,313.78 98.71,316.27 100.58,313.78 103.07,301.32 105.56,280.14 107.43,293.84 109.3,311.29 111.79,311.29 114.28,311.29 116.15,301.32 118.4,279.51 120.51,296.34 123.01,308.8 125.5,308.8 127.99,297.58 131.36,278.89 133.6,296.34 135.47,311.29 137.96,311.29 140.45,302.57 144.19,273.91 146.06,297.58 147.93,307.55 150.42,303.81 152.91,307.55 154.78,305.06 157.27,265.18 159.14,290.11 160.45,308.8 162.94,311.29 166.06,310.67 167.93,293.84 169.8,267.68 172.29,277.64 174.16,296.34 175.4,302.57 176.65,293.84 179.52,253.35" fill="none" stroke="#000" stroke-width="1.15" stroke-dasharray="3.4,1.5" stroke-linejoin="round"/>
</g>
<rect x="33.5" y="248.6" width="149.5" height="75" fill="none" stroke="#222" stroke-width="0.9"/>
<line x1="183" y1="248.6" x2="183" y2="323.6" stroke="#999" stroke-width="1"/>
<line x1="46.4" y1="323.6" x2="46.4" y2="326.8" stroke="#222" stroke-width="0.8"/>
<text x="46.4" y="336.9" text-anchor="middle" class="t">02/18</text>
<line x1="83.2" y1="323.6" x2="83.2" y2="326.8" stroke="#222" stroke-width="0.8"/>
<text x="83.2" y="336.9" text-anchor="middle" class="t">03/09</text>
<line x1="120" y1="323.6" x2="120" y2="326.8" stroke="#222" stroke-width="0.8"/>
<text x="120" y="336.9" text-anchor="middle" class="t">03/29</text>
<line x1="156.8" y1="323.6" x2="156.8" y2="326.8" stroke="#222" stroke-width="0.8"/>
<text x="156.8" y="336.9" text-anchor="middle" class="t">04/18</text>
<line x1="30" y1="323.6" x2="33.5" y2="323.6" stroke="#222" stroke-width="0.8"/>
<text x="27.5" y="326.9" text-anchor="end" class="t">0</text>
<line x1="30" y1="297.9" x2="33.5" y2="297.9" stroke="#222" stroke-width="0.8"/>
<text x="27.5" y="301.2" text-anchor="end" class="t">1</text>
<line x1="30" y1="272" x2="33.5" y2="272" stroke="#222" stroke-width="0.8"/>
<text x="27.5" y="275.3" text-anchor="end" class="t">2</text>
<line x1="183" y1="323" x2="186.2" y2="323" stroke="#222" stroke-width="0.8"/>
<text x="189.6" y="326.3" class="t">0.010</text>
<line x1="183" y1="279.5" x2="186.2" y2="279.5" stroke="#222" stroke-width="0.8"/>
<text x="189.6" y="282.8" class="t">0.015</text>
<g transform="translate(15.9,287.4) rotate(-90)"><text class="rt" transform="translate(-6.6,0) scale(0.86,1)">R</text><text class="rt sub" x="3.7" y="2.4">t</text></g>
<text transform="translate(225,286.1) rotate(-90)" text-anchor="middle" class="ml">Mobility trend</text>
<text x="262.3" y="243.2" class="ti">Chungbuk</text>
<clipPath id="c_Chungbuk"><rect x="261.5" y="248.6" width="149.7" height="75"/></clipPath>
<g clip-path="url(#c_Chungbuk)">
<line x1="261.5" y1="262.5" x2="411.2" y2="262.5" stroke="#383838" stroke-width="1.0"/>
<line x1="274.4" y1="248.6" x2="274.4" y2="323.6" stroke="#f3c9cf" stroke-width="1.1"/>
<line x1="274.4" y1="248.6" x2="274.4" y2="323.6" stroke="#c45a6a" stroke-width="1.1" stroke-dasharray="2.6,1.25"/>
<polyline points="277.88,323.25 279.74,296.34 281.61,259.58 283.11,293.84 284.36,323.25 287.84,323.25 289.09,286.99 290.59,308.8 292.83,287.61 294.07,303.81 295.32,318.77 296.57,262.69 298.06,308.8 299.31,323.25 301.8,323.25 303.79,252.1 305.29,296.34 306.79,311.29 308.4,303.81 310.9,287.61 312.52,313.78 314.01,323.25 315.24,283.88 316.74,313.78 318.23,323.25 320.48,306.31 322.35,290.73 324.21,313.78 325.46,323.25 327.7,293.84 329.45,262.69 331.44,302.57 333.56,265.18 336.05,296.34 339.17,263.94 341.04,307.55 342.91,308.8 344.78,267.05 346.4,298.83 348.51,318.77 350.13,308.8 351.63,323.25" fill="none" stroke="#1f8acb" stroke-width="1.5" stroke-linejoin="round"/>
<polyline points="277.88,323.25 281.61,298.83 284.36,323.25 287.84,323.25 289.09,303.81 290.34,317.52 291.58,315.03 292.83,303.81 294.07,318.77 295.32,313.78 296.57,298.83 298.06,318.77 299.31,323.25 302.17,323.25 303.79,285.12 305.91,306.31 307.78,308.8 309.65,300.07 311.52,306.31 313.39,323.25 315.26,302.57 316.5,318.77 316.12,313.78 317.98,323.25 319.85,318.77 321.72,311.29 323.59,318.77 325.46,323.25 327.95,313.78 329.82,293.84 331.69,323.25 333.56,293.84 335.43,302.57 337.3,298.83 339.17,293.84 340.66,323.25 342.91,318.77 344.78,303.81 346.4,323.25 348.51,323.25 350.13,318.77 351.63,323.25 356.61,322.75 358.48,323.25" fill="none" stroke="#e35c5c" stroke-opacity="0.8" stroke-width="1.8" stroke-linejoin="round"/>
<polyline points="261.93,313.78 263.55,316.27 266.04,298.83 269.15,283.88 271.02,301.32 273.14,316.27 274.76,313.78 277.25,307.55 279.74,302.57 281.61,297.58 283.48,305.06 285.35,313.78 287.22,318.77 289.71,315.03 292.83,310.04 294.7,305.06 296.57,313.78 298.44,315.65 300.93,316.27 303.42,313.78 305.91,307.55 307.78,301.32 309.65,305.06 311.52,312.54 313.39,320.01 315.26,315.03 317.98,302.57 320.48,295.09 322.97,308.8 325.46,315.65 327.95,315.03 330.45,308.8 333.56,287.61 336.05,297.58 337.92,310.04 340.41,309.42 343.53,307.55 346.4,284.5 348.51,290.11 350.38,307.55 352.88,308.8 355.99,306.31 359.73,272.04 361.6,281.38 363.47,309.42 365.96,310.04 368.45,308.8 372.56,277.64 374.68,293.84 376.55,309.42 379.04,305.06 381.54,308.8 383.4,293.84 385.27,278.27 387.14,291.35 389.07,311.29 392.19,310.67 395.31,306.31 398.42,273.28 400.91,291.35 402.16,305.68 404.03,302.57 407.52,253.35" fill="none" stroke="#000" stroke-width="1.15" stroke-dasharray="3.4,1.5" stroke-linejoin="round"/>
</g>
<rect x="261.5" y="248.6" width="149.7" height="75" fill="none" stroke="#222" stroke-width="0.9"/>
<line x1="411.2" y1="248.6" x2="411.2" y2="323.6" stroke="#999" stroke-width="1"/>
<line x1="274.4" y1="323.6" x2="274.4" y2="326.8" stroke="#222" stroke-width="0.8"/>
<text x="274.4" y="336.9" text-anchor="middle" class="t">02/18</text>
<line x1="311.2" y1="323.6" x2="311.2" y2="326.8" stroke="#222" stroke-width="0.8"/>
<text x="311.2" y="336.9" text-anchor="middle" class="t">03/09</text>
<line x1="348" y1="323.6" x2="348" y2="326.8" stroke="#222" stroke-width="0.8"/>
<text x="348" y="336.9" text-anchor="middle" class="t">03/29</text>
<line x1="384.8" y1="323.6" x2="384.8" y2="326.8" stroke="#222" stroke-width="0.8"/>
<text x="384.8" y="336.9" text-anchor="middle" class="t">04/18</text>
<line x1="258" y1="323.6" x2="261.5" y2="323.6" stroke="#222" stroke-width="0.8"/>
<text x="255.5" y="326.9" text-anchor="end" class="t">0</text>
<line x1="258" y1="262.5" x2="261.5" y2="262.5" stroke="#222" stroke-width="0.8"/>
<text x="255.5" y="265.8" text-anchor="end" class="t">1</text>
<line x1="411.2" y1="315.3" x2="414.4" y2="315.3" stroke="#222" stroke-width="0.8"/>
<text x="417.8" y="318.6" class="t">0.010</text>
<line x1="411.2" y1="270.2" x2="414.4" y2="270.2" stroke="#222" stroke-width="0.8"/>
<text x="417.8" y="273.5" class="t">0.020</text>
<g transform="translate(243.9,287.4) rotate(-90)"><text class="rt" transform="translate(-6.6,0) scale(0.86,1)">R</text><text class="rt sub" x="3.7" y="2.4">t</text></g>
<text transform="translate(453.2,286.1) rotate(-90)" text-anchor="middle" class="ml">Mobility trend</text>
<text x="491.2" y="243.2" class="ti">Daejeon</text>
<clipPath id="c_Daejeon"><rect x="490.4" y="248.6" width="149.2" height="75"/></clipPath>
<g clip-path="url(#c_Daejeon)">
<line x1="490.4" y1="301.3" x2="639.6" y2="301.3" stroke="#383838" stroke-width="1.0"/>
<line x1="503.3" y1="248.6" x2="503.3" y2="323.6" stroke="#f3c9cf" stroke-width="1.1"/>
<line x1="503.3" y1="248.6" x2="503.3" y2="323.6" stroke="#c45a6a" stroke-width="1.1" stroke-dasharray="2.6,1.25"/>
<polyline points="508.36,323.25 510.11,283.88 511.36,283.88 512.35,281.38 514.22,266.43 515.47,313.78 516.71,322.5 518.58,318.77 520.45,316.27 522.32,313.78 523.57,318.77 524.81,318.77 526.06,313.78 527.31,310.04 528.55,318.77 530.42,318.77 532.29,313.78 534.16,306.31 535.4,303.81 536.65,323.25" fill="none" stroke="#1f8acb" stroke-width="1.5" stroke-linejoin="round"/>
<polyline points="561.81,323.25 562.68,293.84 563.68,252.1 564.67,293.84 565.92,323.25 569.28,323.25 571.15,313.78 572.65,306.31 574.27,313.78 575.51,323.25 576.76,311.91 578.01,318.77 579.88,318.77 581.12,313.78 582.37,323.25" fill="none" stroke="#1f8acb" stroke-width="1.5" stroke-linejoin="round"/>
<polyline points="508.36,323.25 510.11,302.57 511.73,301.32 513.6,295.09 514.84,311.29 516.09,323.25 517.34,320.01 519.83,318.77 521.7,319.39 523.57,321.26 525.44,318.77 527.31,320.01 529.17,321.26 531.04,319.39 532.91,317.52 534.78,318.77 536.65,323.25" fill="none" stroke="#e35c5c" stroke-opacity="0.8" stroke-width="1.8" stroke-linejoin="round"/>
<polyline points="561.81,323.25 563.05,303.81 564.92,323.25 569.28,323.25 571.78,311.91 573.64,315.03 575.26,323.25 576.76,316.27 578.63,323.25 580.12,318.77 581.74,323.25" fill="none" stroke="#e35c5c" stroke-opacity="0.8" stroke-width="1.8" stroke-linejoin="round"/>
<polyline points="490.55,304.44 492.41,302.57 494.91,281.38 497.65,252.72 499.64,277.64 501.39,303.81 503.01,302.57 504.88,300.07 507.37,297.58 509.86,285.12 511.36,290.11 513.6,303.81 516.09,318.77 518.58,318.14 521.07,313.78 523.32,310.04 524.81,316.27 527.06,317.52 529.17,318.77 531.67,317.52 534.16,307.55 535.78,305.06 537.9,311.29 540.39,316.27 542.88,318.77 545.61,310.04 548.97,296.96 551.21,308.8 554.33,317.52 556.82,316.9 559.31,308.8 562.18,291.35 563.68,298.83 565.55,310.04 567.41,314.4 569.91,313.78 573.02,305.06 574.89,290.73 576.76,300.07 578.63,310.04 581.12,315.03 583.61,313.78 585.48,303.81 587.98,285.74 589.84,296.34 591.71,311.29 593.58,315.65 596.07,315.03 598.57,305.06 600.81,285.12 602.93,296.34 604.8,308.8 606.67,310.04 608.54,315.65 610.4,306.31 613.52,281.38 615.58,296.34 617.45,310.04 619.32,312.54 621.81,311.29 624.31,300.07 626.55,275.15 628.67,291.35 630.54,303.81 632.03,305.06 633.65,293.84 636.14,276.4" fill="none" stroke="#000" stroke-width="1.15" stroke-dasharray="3.4,1.5" stroke-linejoin="round"/>
</g>
<rect x="490.4" y="248.6" width="149.2" height="75" fill="none" stroke="#222" stroke-width="0.9"/>
<line x1="639.6" y1="248.6" x2="639.6" y2="323.6" stroke="#999" stroke-width="1"/>
<line x1="503.3" y1="323.6" x2="503.3" y2="326.8" stroke="#222" stroke-width="0.8"/>
<text x="503.3" y="336.9" text-anchor="middle" class="t">02/18</text>
<line x1="540.1" y1="323.6" x2="540.1" y2="326.8" stroke="#222" stroke-width="0.8"/>
<text x="540.1" y="336.9" text-anchor="middle" class="t">03/09</text>
<line x1="576.9" y1="323.6" x2="576.9" y2="326.8" stroke="#222" stroke-width="0.8"/>
<text x="576.9" y="336.9" text-anchor="middle" class="t">03/29</text>
<line x1="613.7" y1="323.6" x2="613.7" y2="326.8" stroke="#222" stroke-width="0.8"/>
<text x="613.7" y="336.9" text-anchor="middle" class="t">04/18</text>
<line x1="486.9" y1="323.6" x2="490.4" y2="323.6" stroke="#222" stroke-width="0.8"/>
<text x="484.4" y="326.9" text-anchor="end" class="t">0</text>
<line x1="486.9" y1="301.3" x2="490.4" y2="301.3" stroke="#222" stroke-width="0.8"/>
<text x="484.4" y="304.6" text-anchor="end" class="t">1</text>
<line x1="486.9" y1="278.3" x2="490.4" y2="278.3" stroke="#222" stroke-width="0.8"/>
<text x="484.4" y="281.6" text-anchor="end" class="t">2</text>
<line x1="486.9" y1="255.6" x2="490.4" y2="255.6" stroke="#222" stroke-width="0.8"/>
<text x="484.4" y="258.9" text-anchor="end" class="t">3</text>
<line x1="639.6" y1="318.1" x2="642.8" y2="318.1" stroke="#222" stroke-width="0.8"/>
<text x="646.2" y="321.4" class="t">0.010</text>
<line x1="639.6" y1="292" x2="642.8" y2="292" stroke="#222" stroke-width="0.8"/>
<text x="646.2" y="295.3" class="t">0.015</text>
<line x1="639.6" y1="265.8" x2="642.8" y2="265.8" stroke="#222" stroke-width="0.8"/>
<text x="646.2" y="269.1" class="t">0.020</text>
<g transform="translate(472.8,287.4) rotate(-90)"><text class="rt" transform="translate(-6.6,0) scale(0.86,1)">R</text><text class="rt sub" x="3.7" y="2.4">t</text></g>
<text transform="translate(681.6,286.1) rotate(-90)" text-anchor="middle" class="ml">Mobility trend</text>
<text x="34.3" y="358.1" class="ti">Gangwon</text>
<clipPath id="c_Gangwon"><rect x="33.5" y="363.5" width="149.5" height="75"/></clipPath>
<g clip-path="url(#c_Gangwon)">
<line x1="33.5" y1="432.8" x2="183" y2="432.8" stroke="#383838" stroke-width="1.0"/>
<line x1="46.4" y1="363.5" x2="46.4" y2="438.5" stroke="#f3c9cf" stroke-width="1.1"/>
<line x1="46.4" y1="363.5" x2="46.4" y2="438.5" stroke="#c45a6a" stroke-width="1.1" stroke-dasharray="2.6,1.25"/>
<polyline points="64.83,438.25 65.83,408.84 66.82,366.48 67.94,408.84 68.82,438.25 69.81,436.88 72.31,436.88 74.8,437.5 77.29,436.88 81.03,437.26 84.77,436.88 86.64,433.14 88.5,435.01 88.74,438.25 98.08,438.25 99.7,431.27 101.2,438.25 110.55,438.25 112.66,428.78 114.91,438.25 116.78,436.88 118.64,433.77 121.14,434.39 123.63,433.77 126.12,435.01 128.61,434.39 131.11,435.26 133.6,433.77 136.09,438.25 137.96,433.14 139.83,438.25" fill="none" stroke="#1f8acb" stroke-width="1.5" stroke-linejoin="round"/>
<polyline points="64.83,438.25 66.32,432.52 67.57,432.52 68.57,438.25 69.81,437.26 74.8,437.5 79.78,437.75 84.77,437.5 87.26,436.88 89.75,437.75" fill="none" stroke="#e35c5c" stroke-opacity="0.8" stroke-width="1.8" stroke-linejoin="round"/>
<polyline points="116.78,437.5 118.64,436.26 121.14,436.88 123.63,436.51 126.12,437.5 128.61,436.88 131.11,437.75 133.6,437.26 136.09,438.25" fill="none" stroke="#e35c5c" stroke-opacity="0.8" stroke-width="1.8" stroke-linejoin="round"/>
<polyline points="150.42,438.25 152.29,436.26 154.16,438.25" fill="none" stroke="#e35c5c" stroke-opacity="0.8" stroke-width="1.8" stroke-linejoin="round"/>
<polyline points="33.68,426.29 35.55,428.16 38.04,418.81 41.15,391.4 43.02,406.35 44.89,423.8 46.76,426.29 49.25,425.04 51.74,413.83 54.24,399.5 56.11,411.34 57.98,428.78 59.84,432.52 62.34,430.03 64.83,426.29 66.7,412.58 68.57,422.55 70.44,432.52 72.93,433.77 75.42,432.52 77.91,423.8 80.78,411.34 82.9,426.29 84.77,433.14 87.26,432.52 89.98,422.55 92.73,407.6 94.72,415.07 96.84,430.03 98.71,431.9 101.2,431.27 103.69,415.07 106.18,402.61 108.05,411.34 109.92,428.78 112.41,429.4 115.53,421.31 118.64,403.86 120.51,412.58 122.38,426.29 124.88,430.03 127.37,428.78 129.24,415.07 131.36,401.37 133.6,412.58 135.47,427.54 137.96,430.65 140.45,428.78 142.32,417.57 144.56,402.61 146.68,415.07 148.55,427.54 150.42,427.54 152.29,423.17 154.16,428.16 156.03,415.07 157.27,405.11 159.14,415.07 161.07,431.27 163.57,430.65 166.06,426.29 169.8,400.74 172.29,408.84 174.16,426.91 176.03,426.29 177.27,411.34 179.52,367.1" fill="none" stroke="#000" stroke-width="1.15" stroke-dasharray="3.4,1.5" stroke-linejoin="round"/>
</g>
<rect x="33.5" y="363.5" width="149.5" height="75" fill="none" stroke="#222" stroke-width="0.9"/>
<line x1="183" y1="363.5" x2="183" y2="438.5" stroke="#999" stroke-width="1"/>
<line x1="46.4" y1="438.5" x2="46.4" y2="441.7" stroke="#222" stroke-width="0.8"/>
<text x="46.4" y="451.8" text-anchor="middle" class="t">02/18</text>
<line x1="83.2" y1="438.5" x2="83.2" y2="441.7" stroke="#222" stroke-width="0.8"/>
<text x="83.2" y="451.8" text-anchor="middle" class="t">03/09</text>
<line x1="120" y1="438.5" x2="120" y2="441.7" stroke="#222" stroke-width="0.8"/>
<text x="120" y="451.8" text-anchor="middle" class="t">03/29</text>
<line x1="156.8" y1="438.5" x2="156.8" y2="441.7" stroke="#222" stroke-width="0.8"/>
<text x="156.8" y="451.8" text-anchor="middle" class="t">04/18</text>
<line x1="30" y1="438.5" x2="33.5" y2="438.5" stroke="#222" stroke-width="0.8"/>
<text x="27.5" y="441.8" text-anchor="end" class="t">0</text>
<line x1="30" y1="415.1" x2="33.5" y2="415.1" stroke="#222" stroke-width="0.8"/>
<text x="27.5" y="418.4" text-anchor="end" class="t">4</text>
<line x1="30" y1="391.6" x2="33.5" y2="391.6" stroke="#222" stroke-width="0.8"/>
<text x="27.5" y="394.9" text-anchor="end" class="t">8</text>
<line x1="30" y1="368.3" x2="33.5" y2="368.3" stroke="#222" stroke-width="0.8"/>
<text x="27.5" y="371.6" text-anchor="end" class="t">12</text>
<line x1="183" y1="405.1" x2="186.2" y2="405.1" stroke="#222" stroke-width="0.8"/>
<text x="189.6" y="408.4" class="t">0.020</text>
<line x1="183" y1="364.2" x2="186.2" y2="364.2" stroke="#222" stroke-width="0.8"/>
<text x="189.6" y="367.5" class="t">0.040</text>
<g transform="translate(15.9,402.3) rotate(-90)"><text class="rt" transform="translate(-6.6,0) scale(0.86,1)">R</text><text class="rt sub" x="3.7" y="2.4">t</text></g>
<text transform="translate(225,401) rotate(-90)" text-anchor="middle" class="ml">Mobility trend</text>
<text x="262.3" y="358.1" class="ti">Chungnam</text>
<clipPath id="c_Chungnam"><rect x="261.5" y="363.5" width="149.7" height="75"/></clipPath>
<g clip-path="url(#c_Chungnam)">
<line x1="261.5" y1="407.5" x2="411.2" y2="407.5" stroke="#383838" stroke-width="1.0"/>
<line x1="274.4" y1="363.5" x2="274.4" y2="438.5" stroke="#f3c9cf" stroke-width="1.1"/>
<line x1="274.4" y1="363.5" x2="274.4" y2="438.5" stroke="#c45a6a" stroke-width="1.1" stroke-dasharray="2.6,1.25"/>
<polyline points="278.12,438.25 279.37,408.84 280.12,378.31 281.12,407.6 281.86,438.25 287.22,438.25 288.47,383.92 289.09,367.1 290.96,376.45 291.58,381.43 292.83,421.31 294.7,426.29 296.57,430.03 299.06,426.29 301.55,422.55 304.04,418.81 305.91,415.7 307.78,418.19 309.65,418.81 311.52,422.55 313.39,431.27 315.26,428.78 317.98,426.29 319.23,423.8 320.48,438.25 325.46,438.25 326.96,427.54 327.95,411.34 328.95,431.27 330.45,426.29 331.69,403.86 332.94,425.04 334.18,411.34 335.43,390.15 336.68,418.81 337.92,433.77 339.17,423.8 340.66,421.31 342.66,404.48 344.15,412.58 345.65,428.78 347.27,408.84 348.89,416.32 350.38,423.8 352.25,421.31 354.12,423.8 356.61,425.04 359.11,421.31 360.98,428.78 362.84,423.8 364.71,418.81 366.33,428.78 367.83,426.29 369.7,433.77 371.57,428.78 372.81,408.84 374.06,375.2 375.31,408.84 376.55,438.25" fill="none" stroke="#1f8acb" stroke-width="1.5" stroke-linejoin="round"/>
<polyline points="400.04,438.25 401.04,405.11 402.78,422.55 404.28,413.83 405.52,438.25" fill="none" stroke="#1f8acb" stroke-width="1.5" stroke-linejoin="round"/>
<polyline points="278.12,438.25 279.74,421.31 280.62,423.8 281.86,438.25 287.22,438.25 289.09,383.92 290.96,387.66 292.58,421.31 294.7,425.04 296.57,430.65 299.06,428.78 301.55,425.04 304.04,421.31 305.91,418.81 307.78,421.31 309.65,422.55 311.52,426.29 313.39,433.77 315.88,433.77 317.98,434.39 319.85,438.25 325.46,438.25 326.96,433.77 328.58,431.27 329.82,438.25 331.69,428.78 332.94,438.25 334.81,423.8 336.68,426.29 337.92,438.25 339.79,428.78 341.66,426.29 343.53,423.8 344.78,438.25 346.64,428.78 348.51,423.8 349.76,433.77 351.63,430.03 354.12,430.65 356.61,431.27 359.11,432.52 360.98,438.25 362.84,433.77 364.71,431.9 366.33,438.25 368.45,435.01 370.32,438.25 372.19,433.77 374.06,428.78 375.31,431.27 376.55,438.25 384.03,438.25 385.27,437.26 386.52,438.25" fill="none" stroke="#e35c5c" stroke-opacity="0.8" stroke-width="1.8" stroke-linejoin="round"/>
<polyline points="400.04,438.25 401.29,423.8 402.78,423.8 404.28,428.78 405.52,438.25" fill="none" stroke="#e35c5c" stroke-opacity="0.8" stroke-width="1.8" stroke-linejoin="round"/>
<polyline points="261.93,431.27 264.17,428.78 266.66,417.57 269.15,405.11 271.02,415.07 272.89,430.03 274.14,431.9 276.63,428.78 279.12,423.8 281.86,413.83 283.86,422.55 285.98,431.27 287.84,433.77 290.34,428.78 292.83,426.29 294.7,422.55 296.57,429.4 299.06,432.52 301.55,433.14 304.04,431.27 306.54,418.81 308.4,420.06 310.27,422.55 312.14,431.27 313.39,435.01 315.26,432.52 317.98,423.8 320.73,412.58 322.97,422.55 324.84,430.03 326.71,431.27 328.58,428.78 331.07,417.57 333.56,402.61 335.43,411.34 337.3,426.29 339.79,426.91 342.28,426.29 344.15,416.32 346.4,402.61 348.51,411.34 350.38,423.8 352.88,423.8 355.99,421.31 359.73,395.14 361.6,408.84 363.47,423.8 365.96,426.29 368.45,426.91 370.32,415.07 372.56,393.27 374.68,411.34 376.55,425.04 379.04,418.81 381.54,425.67 383.4,412.58 385.27,393.89 387.14,411.34 389.07,426.91 392.19,427.54 394.68,423.8 398.05,392.02 400.29,398.88 401.54,418.81 403.4,422.55 405.27,408.84 407.52,367.1" fill="none" stroke="#000" stroke-width="1.15" stroke-dasharray="3.4,1.5" stroke-linejoin="round"/>
</g>
<rect x="261.5" y="363.5" width="149.7" height="75" fill="none" stroke="#222" stroke-width="0.9"/>
<line x1="411.2" y1="363.5" x2="411.2" y2="438.5" stroke="#999" stroke-width="1"/>
<line x1="274.4" y1="438.5" x2="274.4" y2="441.7" stroke="#222" stroke-width="0.8"/>
<text x="274.4" y="451.8" text-anchor="middle" class="t">02/18</text>
<line x1="311.2" y1="438.5" x2="311.2" y2="441.7" stroke="#222" stroke-width="0.8"/>
<text x="311.2" y="451.8" text-anchor="middle" class="t">03/09</text>
<line x1="348" y1="438.5" x2="348" y2="441.7" stroke="#222" stroke-width="0.8"/>
<text x="348" y="451.8" text-anchor="middle" class="t">03/29</text>
<line x1="384.8" y1="438.5" x2="384.8" y2="441.7" stroke="#222" stroke-width="0.8"/>
<text x="384.8" y="451.8" text-anchor="middle" class="t">04/18</text>
<line x1="258" y1="438.5" x2="261.5" y2="438.5" stroke="#222" stroke-width="0.8"/>
<text x="255.5" y="441.8" text-anchor="end" class="t">0</text>
<line x1="258" y1="407.5" x2="261.5" y2="407.5" stroke="#222" stroke-width="0.8"/>
<text x="255.5" y="410.8" text-anchor="end" class="t">1</text>
<line x1="258" y1="376.1" x2="261.5" y2="376.1" stroke="#222" stroke-width="0.8"/>
<text x="255.5" y="379.4" text-anchor="end" class="t">2</text>
<line x1="411.2" y1="430.3" x2="414.4" y2="430.3" stroke="#222" stroke-width="0.8"/>
<text x="417.8" y="433.6" class="t">0.010</text>
<line x1="411.2" y1="392.9" x2="414.4" y2="392.9" stroke="#222" stroke-width="0.8"/>
<text x="417.8" y="396.2" class="t">0.020</text>
<g transform="translate(243.9,402.3) rotate(-90)"><text class="rt" transform="translate(-6.6,0) scale(0.86,1)">R</text><text class="rt sub" x="3.7" y="2.4">t</text></g>
<text transform="translate(453.2,401) rotate(-90)" text-anchor="middle" class="ml">Mobility trend</text>
<text x="491.2" y="358.1" class="ti">Busan</text>
<clipPath id="c_Busan"><rect x="490.4" y="363.5" width="149.2" height="75"/></clipPath>
<g clip-path="url(#c_Busan)">
<line x1="490.4" y1="391.3" x2="639.6" y2="391.3" stroke="#383838" stroke-width="1.0"/>
<line x1="503.3" y1="363.5" x2="503.3" y2="438.5" stroke="#f3c9cf" stroke-width="1.1"/>
<line x1="503.3" y1="363.5" x2="503.3" y2="438.5" stroke="#c45a6a" stroke-width="1.1" stroke-dasharray="2.6,1.25"/>
<polyline points="508.61,438.25 509.61,396.38 510.48,367.72 511.73,373.95 512.98,390.15 514.22,406.35 516.09,413.83 517.96,414.45 519.83,413.83 521.7,422.55 523.57,424.42 525.44,425.67 527.31,426.91 529.17,426.91 530.42,416.32 531.67,426.91 532.91,432.52 534.78,413.83 536.65,402.61 537.9,392.64 539.14,411.34 540.39,421.31 541.64,433.77 542.88,413.83 544.13,401.37 545.23,398.88 546.85,411.34 548.72,423.8 550.59,431.27 551.84,426.29 553.08,418.81 554.33,431.27 555.58,438.25 558.07,438.25 559.31,408.84 560.19,372.71 561.18,402.61 562.18,423.8 563.43,438.25 564.67,421.31 565.92,405.11 567.41,403.86 568.91,387.66 570.53,402.61 571.4,438.25 572.15,408.84 573.02,386.41 574.27,411.34 576.14,415.07 578.01,418.81 579.88,423.8 581.74,417.57 582.99,426.29 584.24,438.25 591.09,438.25 592.96,428.78 594.83,408.84 596.32,423.8 597.57,438.25 599.19,395.14 601.06,408.84 602.31,421.31 603.8,438.25 606.04,438.25 607.91,415.07 609.78,402.61 611.28,416.32 612.9,438.25 615.39,438.25 617.45,390.15 619.07,423.8 620.57,438.25 621.81,421.31 623.68,424.42 625.55,423.17 627.05,438.25 628.67,390.78 630.29,438.25" fill="none" stroke="#1f8acb" stroke-width="1.5" stroke-linejoin="round"/>
<polyline points="508.36,438.25 509.61,396.38 510.48,372.71 511.73,380.18 512.98,395.14 514.22,408.84 516.09,414.45 517.96,415.7 519.83,415.07 521.7,423.8 523.57,425.67 525.44,427.54 527.31,428.78 529.17,429.4 530.42,423.8 531.67,431.27 532.91,438.25 534.78,423.8 536.65,413.83 537.9,408.84 539.14,423.8 540.39,438.25 541.64,438.25 542.88,423.8 544.13,406.35 545.23,403.86 546.85,413.83 548.72,426.29 550.59,431.27 551.84,428.78 553.08,428.78 554.33,433.77 555.58,438.25 558.07,438.25 559.31,418.81 560.19,401.37 561.18,411.34 562.18,428.78 563.43,438.25 564.67,423.8 565.92,408.84 567.41,406.35 568.91,393.89 570.53,411.34 571.4,438.25 572.15,411.34 573.02,390.15 574.27,413.83 576.14,416.32 578.01,418.81 579.88,428.78 581.74,423.8 582.99,428.78 584.24,438.25 591.09,438.25 592.96,431.27 594.83,413.83 596.32,428.78 597.57,438.25 599.19,403.86 601.06,413.83 602.31,423.8 603.8,438.25 606.04,438.25 607.91,408.84 609.78,402.61 611.28,416.32 612.9,438.25 615.39,438.25 617.45,388.91 619.07,423.8 620.57,438.25 621.81,421.31 623.68,425.04 625.55,423.8 627.05,438.25 628.67,408.84 630.29,438.25" fill="none" stroke="#e35c5c" stroke-opacity="0.8" stroke-width="1.8" stroke-linejoin="round"/>
<polyline points="490.55,416.32 492.41,412.58 494.91,396.38 497.65,367.1 499.64,386.41 501.39,408.84 503.63,411.34 506.12,410.09 507.99,405.11 509.86,402.61 511.73,412.58 514.22,428.78 516.09,434.39 518.58,432.52 521.07,428.78 522.94,428.78 524.81,432.52 527.31,433.14 529.8,433.77 532.29,432.52 534.16,428.78 536.03,423.8 537.9,427.54 539.77,431.27 541.64,432.52 543.5,430.03 545.61,426.29 548.97,413.83 551.21,421.31 553.71,428.78 556.2,429.4 558.69,427.54 560.56,417.57 562.43,407.6 564.3,415.07 566.17,426.29 568.66,426.91 571.15,425.04 573.02,418.81 575.14,408.84 576.76,415.07 578.63,421.31 580.5,425.04 582.99,426.29 585.48,416.32 587.98,403.86 589.84,412.58 591.71,423.8 593.58,426.91 596.07,426.29 598.57,417.57 600.81,403.86 602.31,411.34 604.17,423.8 606.04,425.04 607.91,421.31 609.78,423.8 611.65,417.57 613.52,396.38 615.39,406.35 617.45,423.8 619.32,425.04 621.81,423.17 624.31,411.34 626.8,394.51 628.67,407.6 630.54,420.06 632.03,421.31 633.65,408.84 635.77,377.69" fill="none" stroke="#000" stroke-width="1.15" stroke-dasharray="3.4,1.5" stroke-linejoin="round"/>
</g>
<rect x="490.4" y="363.5" width="149.2" height="75" fill="none" stroke="#222" stroke-width="0.9"/>
<line x1="639.6" y1="363.5" x2="639.6" y2="438.5" stroke="#999" stroke-width="1"/>
<line x1="503.3" y1="438.5" x2="503.3" y2="441.7" stroke="#222" stroke-width="0.8"/>
<text x="503.3" y="451.8" text-anchor="middle" class="t">02/18</text>
<line x1="540.1" y1="438.5" x2="540.1" y2="441.7" stroke="#222" stroke-width="0.8"/>
<text x="540.1" y="451.8" text-anchor="middle" class="t">03/09</text>
<line x1="576.9" y1="438.5" x2="576.9" y2="441.7" stroke="#222" stroke-width="0.8"/>
<text x="576.9" y="451.8" text-anchor="middle" class="t">03/29</text>
<line x1="613.7" y1="438.5" x2="613.7" y2="441.7" stroke="#222" stroke-width="0.8"/>
<text x="613.7" y="451.8" text-anchor="middle" class="t">04/18</text>
<line x1="486.9" y1="438.5" x2="490.4" y2="438.5" stroke="#222" stroke-width="0.8"/>
<text x="484.4" y="441.8" text-anchor="end" class="t">0</text>
<line x1="486.9" y1="391.3" x2="490.4" y2="391.3" stroke="#222" stroke-width="0.8"/>
<text x="484.4" y="394.6" text-anchor="end" class="t">1</text>
<line x1="639.6" y1="429" x2="642.8" y2="429" stroke="#222" stroke-width="0.8"/>
<text x="646.2" y="432.3" class="t">0.010</text>
<line x1="639.6" y1="387.4" x2="642.8" y2="387.4" stroke="#222" stroke-width="0.8"/>
<text x="646.2" y="390.7" class="t">0.020</text>
<g transform="translate(472.8,402.3) rotate(-90)"><text class="rt" transform="translate(-6.6,0) scale(0.86,1)">R</text><text class="rt sub" x="3.7" y="2.4">t</text></g>
<text transform="translate(681.6,401) rotate(-90)" text-anchor="middle" class="ml">Mobility trend</text>
<text x="34.3" y="473" class="ti">Daegu</text>
<clipPath id="c_Daegu"><rect x="33.5" y="478.4" width="149.5" height="75"/></clipPath>
<g clip-path="url(#c_Daegu)">
<line x1="33.5" y1="523.5" x2="183" y2="523.5" stroke="#383838" stroke-width="1.0"/>
<line x1="46.4" y1="478.4" x2="46.4" y2="553.4" stroke="#f3c9cf" stroke-width="1.1"/>
<line x1="46.4" y1="478.4" x2="46.4" y2="553.4" stroke="#c45a6a" stroke-width="1.1" stroke-dasharray="2.6,1.25"/>
<polyline points="44.27,553.25 45.51,511.38 47.38,498.92 49.25,493.94 50.5,501.41 51.74,506.4 53.61,515.12 55.48,520.11 57.35,511.38 59.22,511.38 61.09,518.86 62.96,518.86 64.83,532.57 66.7,535.06 68.57,537.55 70.44,538.8 72.31,538.8 74.17,538.8 76.04,540.04 77.91,541.91 79.78,543.78 81.65,546.27 83.52,544.4 85.39,543.78 87.26,544.4 89.98,539.42 92.48,535.68 94.97,531.94 96.84,529.45 98.08,528.21 99.33,533.19 100.58,538.17 101.82,535.68 103.69,536.93 105.56,536.93 107.43,535.68 109.3,535.68 110.55,530.7 112.17,528.21 114.28,528.21 116.15,536.93 117.4,538.17 119.27,533.19 121.14,535.68 122.38,541.91 124.88,541.91 127.37,540.67 129.86,543.16 132.35,543.78 134.84,545.03 137.34,545.03 139.21,542.54 141.07,546.9 142.32,553.25 143.57,540.67 145.44,536.93 147.31,536.93 149.17,535.68 151.04,534.44 152.91,534.44 154.16,540.67 155.4,553.25 156.65,536.93 158.52,531.94 159.83,531.94 161.07,530.07 162.57,525.71 164.19,530.07 166.06,536.93 167.93,539.79 169.8,536.93 171.67,527.58 173.29,529.45 174.78,536.93 176.28,530.7 177.9,536.93 179.52,553.25" fill="none" stroke="#1f8acb" stroke-width="1.5" stroke-linejoin="round"/>
<polyline points="44.27,553.25 45.51,511.38 47.38,488.95 48.63,481.48 49.88,492.69 51.12,503.91 52.99,512.63 54.86,518.86 56.36,518.86 57.98,510.14 59.22,510.14 60.47,516.37 61.71,518.86 63.33,517.61 64.83,532.57 66.7,533.81 68.57,536.31 70.44,537.55 72.31,538.8 74.17,538.8 76.04,540.04 77.91,541.29 79.78,543.78 81.65,545.65 83.52,543.78 85.39,543.16 87.26,543.78 89.98,538.8 92.48,535.06 94.97,531.32 96.84,528.83 98.08,527.58 99.33,532.57 100.58,537.55 101.82,535.06 103.69,536.31 105.56,536.31 107.43,535.06 109.3,535.06 110.55,530.07 112.17,527.58 114.28,527.58 116.15,536.31 117.4,537.55 119.27,532.57 121.14,535.06 122.38,541.29 124.88,541.29 127.37,540.04 129.86,541.29 131.73,541.29 134.22,541.91 136.09,543.78 137.96,542.54 139.83,540.04 141.07,546.27 142.32,553.25 143.57,540.04 145.44,536.31 147.31,536.31 149.17,535.06 151.04,533.81 152.91,533.81 154.16,540.04 155.4,553.25 156.65,536.31 158.52,531.32 159.83,531.32 161.07,528.83 162.57,524.47 164.19,528.83 166.06,536.31 167.93,538.8 169.8,536.31 171.67,527.58 173.29,528.83 174.78,536.31 176.28,530.07 177.9,536.31 179.52,553.25" fill="none" stroke="#e35c5c" stroke-opacity="0.8" stroke-width="1.8" stroke-linejoin="round"/>
<polyline points="33.93,521.35 36.17,520.11 38.41,508.89 40.9,482.1 43.02,498.92 44.89,515.12 46.76,525.09 48.63,528.83 51.12,537.55 53.61,543.78 56.11,548.77 57.98,548.77 59.84,549.39 62.34,548.77 64.83,547.52 67.32,547.52 69.19,546.27 71.06,545.03 72.93,545.65 74.8,546.27 76.67,545.03 78.54,543.78 80.4,545.03 82.27,544.4 84.77,545.65 87.26,545.03 89.98,543.16 92.48,541.29 94.97,545.03 97.46,543.78 99.95,543.78 102.45,540.04 104.94,537.55 107.43,539.42 109.92,538.8 112.41,538.8 114.91,538.8 117.4,536.31 119.89,532.57 122.38,535.06 124.88,537.55 127.37,538.8 129.86,535.06 131.73,532.57 133.6,536.31 136.09,537.55 138.58,538.8 141.07,536.31 143.57,530.07 145.44,533.81 147.31,535.06 149.8,535.06 152.29,533.81 154.78,531.32 156.65,523.84 158.52,527.58 161.07,531.32 163.57,532.57 166.06,533.81 167.93,526.34 169.8,517.61 171.67,522.6 173.54,528.83 175.4,526.34 177.27,521.35 179.52,513.25" fill="none" stroke="#000" stroke-width="1.15" stroke-dasharray="3.4,1.5" stroke-linejoin="round"/>
</g>
<rect x="33.5" y="478.4" width="149.5" height="75" fill="none" stroke="#222" stroke-width="0.9"/>
<line x1="183" y1="478.4" x2="183" y2="553.4" stroke="#999" stroke-width="1"/>
<line x1="46.4" y1="553.4" x2="46.4" y2="556.6" stroke="#222" stroke-width="0.8"/>
<text x="46.4" y="566.7" text-anchor="middle" class="t">02/18</text>
<line x1="83.2" y1="553.4" x2="83.2" y2="556.6" stroke="#222" stroke-width="0.8"/>
<text x="83.2" y="566.7" text-anchor="middle" class="t">03/09</text>
<line x1="120" y1="553.4" x2="120" y2="556.6" stroke="#222" stroke-width="0.8"/>
<text x="120" y="566.7" text-anchor="middle" class="t">03/29</text>
<line x1="156.8" y1="553.4" x2="156.8" y2="556.6" stroke="#222" stroke-width="0.8"/>
<text x="156.8" y="566.7" text-anchor="middle" class="t">04/18</text>
<line x1="30" y1="553.4" x2="33.5" y2="553.4" stroke="#222" stroke-width="0.8"/>
<text x="27.5" y="556.7" text-anchor="end" class="t">0</text>
<line x1="30" y1="523.5" x2="33.5" y2="523.5" stroke="#222" stroke-width="0.8"/>
<text x="27.5" y="526.8" text-anchor="end" class="t">1</text>
<line x1="30" y1="493.3" x2="33.5" y2="493.3" stroke="#222" stroke-width="0.8"/>
<text x="27.5" y="496.6" text-anchor="end" class="t">2</text>
<line x1="183" y1="542.3" x2="186.2" y2="542.3" stroke="#222" stroke-width="0.8"/>
<text x="189.6" y="545.6" class="t">0.010</text>
<line x1="183" y1="515.1" x2="186.2" y2="515.1" stroke="#222" stroke-width="0.8"/>
<text x="189.6" y="518.4" class="t">0.020</text>
<line x1="183" y1="487.5" x2="186.2" y2="487.5" stroke="#222" stroke-width="0.8"/>
<text x="189.6" y="490.8" class="t">0.030</text>
<g transform="translate(15.9,517.2) rotate(-90)"><text class="rt" transform="translate(-6.6,0) scale(0.86,1)">R</text><text class="rt sub" x="3.7" y="2.4">t</text></g>
<text transform="translate(225,515.9) rotate(-90)" text-anchor="middle" class="ml">Mobility trend</text>
<text x="262.3" y="473" class="ti">Gyeongbuk</text>
<clipPath id="c_Gyeongbuk"><rect x="261.5" y="478.4" width="149.7" height="75"/></clipPath>
<g clip-path="url(#c_Gyeongbuk)">
<line x1="261.5" y1="535" x2="411.2" y2="535" stroke="#383838" stroke-width="1.0"/>
<line x1="274.4" y1="478.4" x2="274.4" y2="553.4" stroke="#f3c9cf" stroke-width="1.1"/>
<line x1="274.4" y1="478.4" x2="274.4" y2="553.4" stroke="#c45a6a" stroke-width="1.1" stroke-dasharray="2.6,1.25"/>
<polyline points="274.14,553.25 275.13,511.38 276.01,485.21 276.88,481.48 277.88,486.46 279.12,496.43 280.12,538.8 281.61,539.42 283.48,538.8 285.35,537.55 287.22,536.31 289.09,538.8 290.96,537.55 292.83,540.04 294.7,538.17 295.94,541.91 297.81,542.54 300.31,543.78 302.17,545.65 304.04,547.52 305.91,548.77 307.78,549.39 309.65,549.39 311.52,548.77 313.39,547.52 315.26,545.03 317.98,540.04 320.48,535.06 322.35,533.19 324.21,532.57 326.08,533.81 327.95,534.44 329.82,535.06 331.69,536.31 332.94,543.78 334.81,545.03 336.68,541.91 338.55,541.29 340.41,543.78 342.28,541.29 344.15,540.04 346.02,539.42 347.89,545.03 349.76,546.27 351.63,543.78 354.12,542.54 356.61,541.29 359.11,541.29 361.6,538.8 364.09,535.06 365.96,530.07 366.83,526.34 367.83,543.78 369.07,548.77 370.32,540.04 372.19,539.42 374.06,540.04 375.93,541.91 377.8,543.78 379.67,543.78 381.54,545.65 383.4,547.52 385.9,547.52 387.77,545.65 387.83,546.27 389.7,548.77 390.94,553.25 392.56,544.4 394.06,553.25 395.93,553.25 397.8,537.55 399.04,553.25 402.16,553.25 403.78,540.04 405.02,553.25" fill="none" stroke="#1f8acb" stroke-width="1.5" stroke-linejoin="round"/>
<polyline points="274.14,553.25 275.13,511.38 276.01,488.95 276.88,490.2 277.88,495.18 279.12,505.15 280.12,541.29 281.61,541.91 283.48,540.04 285.35,539.42 287.22,538.8 289.09,540.04 290.96,541.29 292.83,543.16 294.7,541.91 295.94,543.78 297.81,545.65 300.31,546.9 302.17,548.14 304.04,549.39 305.91,550.01 307.78,550.26 309.65,550.26 311.52,549.39 313.39,548.14 315.26,546.9 317.98,543.78 320.48,540.04 322.35,538.8 324.21,538.17 326.08,538.17 327.95,538.8 329.82,539.42 331.07,543.78 332.31,548.77 334.18,548.77 336.05,546.27 337.92,545.03 339.79,547.52 341.66,545.65 343.53,546.9 345.4,543.78 347.27,545.65 349.14,548.77 351.01,547.52 352.88,546.9 355.37,547.52 357.86,546.27 360.35,544.4 362.84,542.54 364.71,540.04 365.96,537.55 367.21,535.06 368.08,548.77 368.83,553.25 369.7,543.78 370.94,538.8 372.81,539.42 374.68,540.04 376.55,541.91 378.42,545.03 380.91,546.27 383.4,548.77 385.9,548.77 387.77,547.52 387.83,547.52 389.7,550.01 390.94,553.25 392.56,547.52 394.06,553.25 395.93,553.25 397.8,543.78 399.04,553.25 402.16,553.25 403.78,545.03 405.02,553.25" fill="none" stroke="#e35c5c" stroke-opacity="0.8" stroke-width="1.8" stroke-linejoin="round"/>
<polyline points="261.93,538.8 263.55,535.06 266.04,521.35 269.15,502.66 270.65,513.88 272.27,530.07 273.89,535.06 276.01,533.19 277.88,534.44 280.37,536.31 282.24,540.04 284.11,543.78 285.98,546.27 287.84,548.14 289.71,545.03 291.58,543.78 293.45,541.91 295.32,546.27 297.19,545.03 299.06,544.4 301.55,543.78 304.04,543.16 306.54,541.91 309.03,538.8 310.9,545.03 312.77,548.77 314.64,545.03 317.98,538.8 320.48,533.81 322.35,536.31 324.21,541.91 326.08,541.29 327.95,540.04 330.45,541.29 332.31,533.81 334.18,523.22 336.05,530.07 337.92,538.8 340.41,538.8 342.91,540.67 345.15,532.57 347.89,521.35 349.76,532.57 351.63,533.81 354.12,535.06 356.61,526.34 359.73,511.38 361.6,521.35 363.47,533.81 365.34,532.57 367.21,536.31 369.7,530.07 372.56,518.24 374.68,530.07 376.55,533.81 379.04,532.57 380.29,530.7 382.16,533.81 385.27,515.12 387.14,526.34 389.07,537.55 391.57,536.31 394.06,535.06 395.93,526.34 398.42,510.14 400.29,508.89 401.54,526.34 402.78,532.57 404.65,528.83 407.52,482.1" fill="none" stroke="#000" stroke-width="1.15" stroke-dasharray="3.4,1.5" stroke-linejoin="round"/>
</g>
<rect x="261.5" y="478.4" width="149.7" height="75" fill="none" stroke="#222" stroke-width="0.9"/>
<line x1="411.2" y1="478.4" x2="411.2" y2="553.4" stroke="#999" stroke-width="1"/>
<line x1="274.4" y1="553.4" x2="274.4" y2="556.6" stroke="#222" stroke-width="0.8"/>
<text x="274.4" y="566.7" text-anchor="middle" class="t">02/18</text>
<line x1="311.2" y1="553.4" x2="311.2" y2="556.6" stroke="#222" stroke-width="0.8"/>
<text x="311.2" y="566.7" text-anchor="middle" class="t">03/09</text>
<line x1="348" y1="553.4" x2="348" y2="556.6" stroke="#222" stroke-width="0.8"/>
<text x="348" y="566.7" text-anchor="middle" class="t">03/29</text>
<line x1="384.8" y1="553.4" x2="384.8" y2="556.6" stroke="#222" stroke-width="0.8"/>
<text x="384.8" y="566.7" text-anchor="middle" class="t">04/18</text>
<line x1="258" y1="553.4" x2="261.5" y2="553.4" stroke="#222" stroke-width="0.8"/>
<text x="255.5" y="556.7" text-anchor="end" class="t">0</text>
<line x1="258" y1="516.4" x2="261.5" y2="516.4" stroke="#222" stroke-width="0.8"/>
<text x="255.5" y="519.7" text-anchor="end" class="t">2</text>
<line x1="258" y1="479.2" x2="261.5" y2="479.2" stroke="#222" stroke-width="0.8"/>
<text x="255.5" y="482.5" text-anchor="end" class="t">4</text>
<line x1="411.2" y1="543.2" x2="414.4" y2="543.2" stroke="#222" stroke-width="0.8"/>
<text x="417.8" y="546.5" class="t">0.010</text>
<line x1="411.2" y1="505.2" x2="414.4" y2="505.2" stroke="#222" stroke-width="0.8"/>
<text x="417.8" y="508.5" class="t">0.020</text>
<g transform="translate(243.9,517.2) rotate(-90)"><text class="rt" transform="translate(-6.6,0) scale(0.86,1)">R</text><text class="rt sub" x="3.7" y="2.4">t</text></g>
<text transform="translate(453.2,515.9) rotate(-90)" text-anchor="middle" class="ml">Mobility trend</text>
<text x="491.2" y="473" class="ti">Ulsan</text>
<clipPath id="c_Ulsan"><rect x="490.4" y="478.4" width="149.2" height="75"/></clipPath>
<g clip-path="url(#c_Ulsan)">
<line x1="490.4" y1="520.5" x2="639.6" y2="520.5" stroke="#383838" stroke-width="1.0"/>
<line x1="503.3" y1="478.4" x2="503.3" y2="553.4" stroke="#f3c9cf" stroke-width="1.1"/>
<line x1="503.3" y1="478.4" x2="503.3" y2="553.4" stroke="#c45a6a" stroke-width="1.1" stroke-dasharray="2.6,1.25"/>
<polyline points="510.11,553.25 511.36,511.38 512.35,481.48 513.6,523.84 514.84,548.77 516.09,495.18 517.34,511.38 518.83,526.34 520.45,541.29 522.32,543.78 524.19,546.27 526.06,548.77 527.93,538.8 529.17,547.52 530.42,541.29 531.67,548.77 532.91,553.25 536.03,553.25 537.27,523.84 538.27,515.74 539.52,543.78 540.76,545.03 542.26,523.84 543.49,490.2 544.74,536.31 545.98,553.25 547.23,513.88 548.47,536.31 549.72,553.25 550.97,502.04 552.21,538.8 553.46,553.25 555.58,553.25 557.45,548.77 559.31,549.39 560.56,553.25 567.41,553.25 568.66,511.38 569.53,487.08 570.53,530.07 571.78,543.78 573.02,536.31 574.27,548.77 575.51,553.25" fill="none" stroke="#1f8acb" stroke-width="1.5" stroke-linejoin="round"/>
<polyline points="598.57,553.25 599.81,528.83 601.06,522.6 602.31,553.25 604.17,553.25 606.04,520.11 607.29,538.8 608.54,553.25" fill="none" stroke="#1f8acb" stroke-width="1.5" stroke-linejoin="round"/>
<polyline points="510.11,553.25 511.36,533.81 512.35,538.8 513.6,531.32 514.84,547.52 516.09,530.07 517.34,533.81 518.83,542.54 520.45,547.52 522.32,548.77 524.19,551.26 526.06,553.25 527.93,548.77 529.17,552.5 530.42,551.26 531.67,553.25 536.03,553.25 537.27,543.78 538.52,538.8 539.52,548.77 540.76,551.26 542.26,543.78 542.24,538.8 543.49,538.8 544.74,546.27 545.98,553.25 547.23,527.58 548.47,536.31 549.72,553.25 550.97,522.6 552.21,541.29 553.46,553.25 555.58,553.25 557.45,550.64 559.31,550.64 560.56,553.25 567.41,553.25 568.91,527.58 570.53,538.8 571.78,548.77 573.02,550.01 574.27,553.25" fill="none" stroke="#e35c5c" stroke-opacity="0.8" stroke-width="1.8" stroke-linejoin="round"/>
<polyline points="598.57,553.25 600.44,532.57 601.68,540.04 602.93,553.25 604.17,553.25 606.04,536.31 607.91,553.25" fill="none" stroke="#e35c5c" stroke-opacity="0.8" stroke-width="1.8" stroke-linejoin="round"/>
<polyline points="490.55,530.07 492.41,526.34 494.91,508.89 497.65,491.45 499.64,511.38 501.39,523.84 503.01,522.6 504.88,520.11 506.74,518.86 508.61,516.99 510.48,521.35 512.35,532.57 514.22,538.8 516.09,542.54 517.96,535.06 519.83,532.57 521.7,531.32 523.57,536.31 525.44,543.78 527.31,538.17 529.8,537.55 532.29,536.31 534.53,528.83 536.65,533.81 538.52,538.8 540.39,541.91 542.26,538.8 546.23,531.32 548.72,522.6 550.59,533.81 551.84,536.31 553.71,535.06 556.2,533.19 558.69,532.57 560.56,523.84 562.18,516.99 563.68,527.58 565.55,531.32 568.04,530.7 570.53,528.83 572.4,532.57 575.14,520.11 576.76,526.34 579.25,527.58 582.37,528.83 584.86,521.35 587.6,510.14 589.84,520.11 591.71,530.07 594.21,530.7 597.32,528.83 600.44,515.12 602.31,532.57 604.8,531.94 606.67,526.34 609.16,528.83 611.65,522.6 613.77,508.27 616.21,530.07 618.7,530.07 621.81,526.34 624.31,515.12 626.55,508.27 628.67,518.86 630.54,525.09 632.4,521.35 635.52,482.1" fill="none" stroke="#000" stroke-width="1.15" stroke-dasharray="3.4,1.5" stroke-linejoin="round"/>
</g>
<rect x="490.4" y="478.4" width="149.2" height="75" fill="none" stroke="#222" stroke-width="0.9"/>
<line x1="639.6" y1="478.4" x2="639.6" y2="553.4" stroke="#999" stroke-width="1"/>
<line x1="503.3" y1="553.4" x2="503.3" y2="556.6" stroke="#222" stroke-width="0.8"/>
<text x="503.3" y="566.7" text-anchor="middle" class="t">02/18</text>
<line x1="540.1" y1="553.4" x2="540.1" y2="556.6" stroke="#222" stroke-width="0.8"/>
<text x="540.1" y="566.7" text-anchor="middle" class="t">03/09</text>
<line x1="576.9" y1="553.4" x2="576.9" y2="556.6" stroke="#222" stroke-width="0.8"/>
<text x="576.9" y="566.7" text-anchor="middle" class="t">03/29</text>
<line x1="613.7" y1="553.4" x2="613.7" y2="556.6" stroke="#222" stroke-width="0.8"/>
<text x="613.7" y="566.7" text-anchor="middle" class="t">04/18</text>
<line x1="486.9" y1="553.4" x2="490.4" y2="553.4" stroke="#222" stroke-width="0.8"/>
<text x="484.4" y="556.7" text-anchor="end" class="t">0</text>
<line x1="486.9" y1="520.5" x2="490.4" y2="520.5" stroke="#222" stroke-width="0.8"/>
<text x="484.4" y="523.8" text-anchor="end" class="t">1</text>
<line x1="486.9" y1="487.1" x2="490.4" y2="487.1" stroke="#222" stroke-width="0.8"/>
<text x="484.4" y="490.4" text-anchor="end" class="t">2</text>
<line x1="639.6" y1="543.8" x2="642.8" y2="543.8" stroke="#222" stroke-width="0.8"/>
<text x="646.2" y="547.1" class="t">0.010</text>
<line x1="639.6" y1="510.1" x2="642.8" y2="510.1" stroke="#222" stroke-width="0.8"/>
<text x="646.2" y="513.4" class="t">0.015</text>
<g transform="translate(472.8,517.2) rotate(-90)"><text class="rt" transform="translate(-6.6,0) scale(0.86,1)">R</text><text class="rt sub" x="3.7" y="2.4">t</text></g>
<text transform="translate(681.6,515.9) rotate(-90)" text-anchor="middle" class="ml">Mobility trend</text>
<text x="34.3" y="588" class="ti">Gyeongnam</text>
<clipPath id="c_Gyeongnam"><rect x="33.5" y="593.4" width="149.5" height="75"/></clipPath>
<g clip-path="url(#c_Gyeongnam)">
<line x1="33.5" y1="637.5" x2="183" y2="637.5" stroke="#383838" stroke-width="1.0"/>
<line x1="46.4" y1="593.4" x2="46.4" y2="668.4" stroke="#f3c9cf" stroke-width="1.1"/>
<line x1="46.4" y1="593.4" x2="46.4" y2="668.4" stroke="#c45a6a" stroke-width="1.1" stroke-dasharray="2.6,1.25"/>
<polyline points="49.88,668.25 50.87,638.84 52.12,602.71 52.99,617.66 54.24,636.35 55.48,643.83 57.35,638.84 58.97,635.73 60.47,643.83 61.71,647.57 63.58,653.8 65.45,656.29 67.32,653.8 69.19,648.81 71.06,645.07 72.31,642.58 73.55,655.04 75.42,657.54 77.29,660.03 79.16,662.52 81.03,663.14 82.9,663.77 84.77,665.01 86.64,658.78 88.5,651.31 89.36,650.68 90.61,663.77 91.85,668.25 96.21,668.25 97.46,641.34 98.21,623.89 99.33,658.78 100.58,668.25 101.82,663.77 103.44,628.88 104.69,646.32 106.18,641.34 107.43,653.8 109.3,638.84 110.92,635.11 112.17,653.8 113.66,663.77 114.91,658.78 116.4,596.48 117.65,641.34 119.27,638.84 121.14,628.88 122.38,626.38 123.63,641.34 124.88,651.31 126.74,653.8 128.61,653.8 130.48,652.55 132.35,653.8 134.84,656.29 136.09,658.78 137.34,663.77 138.58,666.88 141.07,667.75 153.54,667.75 155.4,637.6 156.65,668.25 165,667.75" fill="none" stroke="#1f8acb" stroke-width="1.5" stroke-linejoin="round"/>
<polyline points="33.68,667.75 39.91,667.75 46.14,667.75 49.88,668.25 50.87,638.84 52.12,626.38 52.99,632.61 54.24,643.83 55.48,646.32 57.35,643.83 59.22,642.58 60.47,647.57 61.71,653.8 63.58,658.16 65.45,660.03 67.32,658.78 69.19,657.54 70.44,656.29 71.68,655.04 72.93,658.78 74.8,661.27 76.67,663.14 78.54,664.39 80.4,664.76 82.27,664.76 84.14,666.26 86.01,665.01 87.88,663.77 89.36,663.77 90.61,666.88 91.85,668.25 96.21,668.25 97.46,658.78 98.71,657.54 99.95,668.25 101.82,668.25 103.44,658.78 104.94,653.8 106.43,656.29 108.05,653.8 109.92,652.55 111.42,653.8 112.66,666.26 113.91,668.25 115.53,636.35 117.15,628.88 118.64,641.34 120.51,642.58 122.38,645.07 124.25,650.06 125.5,658.78 127.37,656.29 129.86,656.29 131.73,655.04 133.6,656.29 135.47,658.78 137.34,662.52 138.58,666.88 141.07,667.75 153.54,667.75 155.4,653.8 157.02,668.25 165,667.75" fill="none" stroke="#e35c5c" stroke-opacity="0.8" stroke-width="1.8" stroke-linejoin="round"/>
<polyline points="33.93,660.03 35.55,656.91 38.04,643.83 40.9,625.14 42.65,633.86 44.27,646.32 46.14,655.04 48.01,653.8 49.88,651.31 52.37,647.57 54.24,645.07 56.11,655.04 57.98,661.27 59.6,664.39 61.71,661.27 64.21,658.78 66.07,656.29 67.94,658.78 69.81,661.27 72.31,661.27 74.8,660.65 77.91,655.04 81.03,650.06 82.9,656.29 84.77,663.77 86.64,661.27 89.98,648.81 92.73,640.09 94.97,651.31 96.84,657.54 99.33,658.16 101.82,656.29 103.69,647.57 105.93,632.61 108.05,642.58 110.55,654.42 112.41,655.04 114.91,658.78 116.78,647.57 119.27,635.11 121.14,643.83 123.63,653.8 126.12,655.04 128.61,648.81 131.36,628.25 133.6,641.34 135.47,656.29 137.96,656.29 140.45,653.8 142.32,643.83 144.56,635.11 146.68,646.32 148.55,656.29 151.04,652.55 153.54,655.04 155.4,643.83 157.27,630.12 159.14,643.83 161.07,656.91 163.57,656.29 166.06,654.42 167.93,641.34 170.05,627.63 172.29,631.37 174.16,653.17 176.03,650.06 177.27,641.34 179.52,596.48" fill="none" stroke="#000" stroke-width="1.15" stroke-dasharray="3.4,1.5" stroke-linejoin="round"/>
</g>
<rect x="33.5" y="593.4" width="149.5" height="75" fill="none" stroke="#222" stroke-width="0.9"/>
<line x1="183" y1="593.4" x2="183" y2="668.4" stroke="#999" stroke-width="1"/>
<line x1="46.4" y1="668.4" x2="46.4" y2="671.6" stroke="#222" stroke-width="0.8"/>
<text x="46.4" y="681.1" text-anchor="middle" class="t">02/18</text>
<line x1="83.2" y1="668.4" x2="83.2" y2="671.6" stroke="#222" stroke-width="0.8"/>
<text x="83.2" y="681.1" text-anchor="middle" class="t">03/09</text>
<line x1="120" y1="668.4" x2="120" y2="671.6" stroke="#222" stroke-width="0.8"/>
<text x="120" y="681.1" text-anchor="middle" class="t">03/29</text>
<line x1="156.8" y1="668.4" x2="156.8" y2="671.6" stroke="#222" stroke-width="0.8"/>
<text x="156.8" y="681.1" text-anchor="middle" class="t">04/18</text>
<line x1="30" y1="668.4" x2="33.5" y2="668.4" stroke="#222" stroke-width="0.8"/>
<text x="27.5" y="671.7" text-anchor="end" class="t">0</text>
<line x1="30" y1="637.5" x2="33.5" y2="637.5" stroke="#222" stroke-width="0.8"/>
<text x="27.5" y="640.8" text-anchor="end" class="t">1</text>
<line x1="30" y1="606.1" x2="33.5" y2="606.1" stroke="#222" stroke-width="0.8"/>
<text x="27.5" y="609.4" text-anchor="end" class="t">2</text>
<line x1="183" y1="661" x2="186.2" y2="661" stroke="#222" stroke-width="0.8"/>
<text x="189.6" y="664.3" class="t">0.010</text>
<line x1="183" y1="617.4" x2="186.2" y2="617.4" stroke="#222" stroke-width="0.8"/>
<text x="189.6" y="620.7" class="t">0.020</text>
<g transform="translate(15.9,632.2) rotate(-90)"><text class="rt" transform="translate(-6.6,0) scale(0.86,1)">R</text><text class="rt sub" x="3.7" y="2.4">t</text></g>
<text transform="translate(225,630.9) rotate(-90)" text-anchor="middle" class="ml">Mobility trend</text>
<text x="262.3" y="588" class="ti">Sejong</text>
<clipPath id="c_Sejong"><rect x="261.5" y="593.4" width="149.7" height="75"/></clipPath>
<g clip-path="url(#c_Sejong)">
<line x1="261.5" y1="633.9" x2="411.2" y2="633.9" stroke="#383838" stroke-width="1.0"/>
<line x1="274.4" y1="593.4" x2="274.4" y2="668.4" stroke="#f3c9cf" stroke-width="1.1"/>
<line x1="274.4" y1="593.4" x2="274.4" y2="668.4" stroke="#c45a6a" stroke-width="1.1" stroke-dasharray="2.6,1.25"/>
<polyline points="305.29,668.25 306.29,633.86 307.53,596.48 308.78,611.43 309.65,623.89 311.52,620.15 313,613.92 314.87,615.79 316.12,626.38 317.36,651.31 319.23,661.27 321.72,663.77 324.84,664.39 326.08,668.25 327.08,651.31 327.95,635.11 328.95,651.31 329.82,668.25 336.05,668.25 336.68,638.84 337.3,596.48 338.17,638.84 338.92,668.25 340.17,668.25 341.04,641.34 341.91,658.78 342.91,668.25" fill="none" stroke="#1f8acb" stroke-width="1.5" stroke-linejoin="round"/>
<polyline points="261.68,667.75 305.29,667.75 306.29,645.07 307.53,641.34 309.03,637.6 310.9,635.11 312.77,634.48 313,635.11 314.87,638.84 316.12,651.31 317.98,661.27 320.48,664.39 322.97,665.01 324.84,663.77 326.08,665.01 327.33,663.14 328.58,664.39 329.82,668.25 335.18,668.25 336.43,650.06 337.67,661.27 338.92,665.01 340.41,663.77 341.91,666.26 342.91,668.25 347.89,667.75 392.75,667.75" fill="none" stroke="#e35c5c" stroke-opacity="0.8" stroke-width="1.8" stroke-linejoin="round"/>
<polyline points="261.93,630.12 263.55,632.61 266.04,618.91 268.9,608.31 270.65,641.34 272.27,638.84 273.89,633.86 275.38,628.88 277.88,621.4 280.37,614.55 281.86,626.38 283.48,657.54 285.35,641.34 287.22,642.58 289.09,632.61 290.96,628.88 292.83,625.76 295.07,638.84 296.82,658.78 299.06,635.11 300.93,634.48 302.8,633.86 304.67,630.12 305.91,621.4 307.78,638.84 309.65,651.31 311.52,642.58 313.39,648.81 315.26,641.34 316.74,637.6 318.61,635.11 320.48,643.83 322.35,662.52 324.21,643.83 326.08,642.58 327.95,641.34 330.45,636.35 332.31,628.88 334.18,633.86 335.68,650.06 337.3,638.84 339.17,636.35 341.04,635.73 342.91,636.35 344.78,630.12 346.4,626.38 347.89,633.86 348.89,640.09 350.38,631.37 352.25,630.12 354.12,631.99 356.61,623.89 359.11,613.3 360.98,623.89 362.84,631.37 365.34,632.61 367.83,630.12 369.7,621.4 372.19,614.55 374.06,643.83 375.93,628.88 377.8,625.14 379.67,636.35 381.54,631.37 383.4,625.14 385.27,610.18 387.14,641.34 387.83,641.34 389.7,631.37 392.19,628.88 394.68,626.38 397.8,608.31 400.29,628.88 402.16,626.38 404.65,620.15 407.52,596.48" fill="none" stroke="#000" stroke-width="1.15" stroke-dasharray="3.4,1.5" stroke-linejoin="round"/>
</g>
<rect x="261.5" y="593.4" width="149.7" height="75" fill="none" stroke="#222" stroke-width="0.9"/>
<line x1="411.2" y1="593.4" x2="411.2" y2="668.4" stroke="#999" stroke-width="1"/>
<line x1="274.4" y1="668.4" x2="274.4" y2="671.6" stroke="#222" stroke-width="0.8"/>
<text x="274.4" y="681.1" text-anchor="middle" class="t">02/18</text>
<line x1="311.2" y1="668.4" x2="311.2" y2="671.6" stroke="#222" stroke-width="0.8"/>
<text x="311.2" y="681.1" text-anchor="middle" class="t">03/09</text>
<line x1="348" y1="668.4" x2="348" y2="671.6" stroke="#222" stroke-width="0.8"/>
<text x="348" y="681.1" text-anchor="middle" class="t">03/29</text>
<line x1="384.8" y1="668.4" x2="384.8" y2="671.6" stroke="#222" stroke-width="0.8"/>
<text x="384.8" y="681.1" text-anchor="middle" class="t">04/18</text>
<line x1="258" y1="668.4" x2="261.5" y2="668.4" stroke="#222" stroke-width="0.8"/>
<text x="255.5" y="671.7" text-anchor="end" class="t">0</text>
<line x1="258" y1="633.9" x2="261.5" y2="633.9" stroke="#222" stroke-width="0.8"/>
<text x="255.5" y="637.2" text-anchor="end" class="t">1</text>
<line x1="258" y1="600" x2="261.5" y2="600" stroke="#222" stroke-width="0.8"/>
<text x="255.5" y="603.3" text-anchor="end" class="t">2</text>
<line x1="411.2" y1="653.8" x2="414.4" y2="653.8" stroke="#222" stroke-width="0.8"/>
<text x="417.8" y="657.1" class="t">0.010</text>
<line x1="411.2" y1="607.7" x2="414.4" y2="607.7" stroke="#222" stroke-width="0.8"/>
<text x="417.8" y="611" class="t">0.015</text>
<g transform="translate(243.9,632.2) rotate(-90)"><text class="rt" transform="translate(-6.6,0) scale(0.86,1)">R</text><text class="rt sub" x="3.7" y="2.4">t</text></g>
<text transform="translate(453.2,630.9) rotate(-90)" text-anchor="middle" class="ml">Mobility trend</text>
<line x1="466.6" y1="608.9" x2="496.2" y2="608.9" stroke="#1f8acb" stroke-width="1.5"/>
<line x1="466.6" y1="629.3" x2="496.2" y2="629.3" stroke="#e35c5c" stroke-opacity="0.72" stroke-width="1.6"/>
<line x1="466.6" y1="649.7" x2="496.2" y2="649.7" stroke="#111" stroke-width="0.9" stroke-dasharray="3.2,1.6"/>
<text x="508.3" y="613.9" class="lg">WT Method</text>
<text x="508.3" y="634.3" class="lg">Mobility-Adjusted Method</text>
<text x="508.3" y="654.7" class="lg">Mobility trend</text>
</svg>
</body></html>
